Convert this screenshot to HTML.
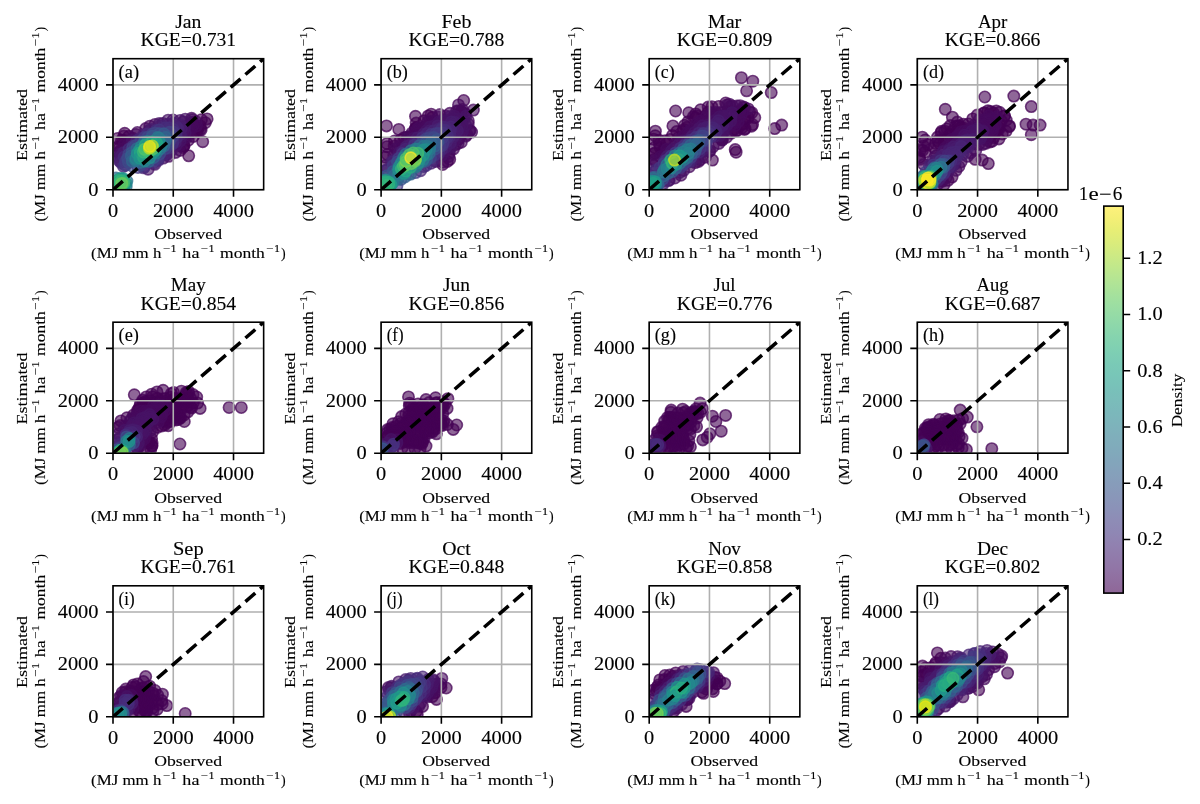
<!DOCTYPE html><html><head><meta charset="utf-8"><style>html,body{margin:0;padding:0;background:#fff}svg{display:block;will-change:transform}text{font-family:"Liberation Serif",serif;fill:#000;stroke:#000;stroke-width:.12px}.sc circle{r:5.7px;fill:currentColor;stroke:currentColor;stroke-width:1.6px;fill-opacity:.6;stroke-opacity:.72}</style></head><body>
<svg width="1200" height="804" viewBox="0 0 1200 804">
<rect width="1200" height="804" fill="#fff"/>
<clipPath id="c0"><rect x="113.0" y="58.7" width="150.65" height="131.0"/></clipPath>
<g class="sc" clip-path="url(#c0)"><g color="#440154"><circle cx="188.7" cy="155.8"/><circle cx="202.7" cy="141.7"/><circle cx="117.5" cy="138.5"/><circle cx="124.7" cy="133.3"/><circle cx="123.9" cy="136.1"/><circle cx="121.5" cy="140.3"/><circle cx="201.1" cy="130.0"/><circle cx="123.3" cy="140.2"/><circle cx="200.3" cy="129.1"/><circle cx="205.3" cy="122.7"/><circle cx="207.1" cy="118.9"/><circle cx="193.3" cy="136.5"/><circle cx="118.0" cy="146.7"/><circle cx="128.9" cy="136.3"/><circle cx="197.5" cy="130.6"/><circle cx="182.8" cy="147.5"/><circle cx="184.0" cy="145.9"/><circle cx="180.2" cy="150.3"/><circle cx="200.2" cy="125.9"/><circle cx="183.8" cy="145.8"/><circle cx="188.3" cy="140.2"/><circle cx="197.4" cy="128.6"/><circle cx="119.5" cy="147.4"/><circle cx="193.1" cy="132.1"/><circle cx="201.4" cy="119.7"/></g><g color="#460a5d"><circle cx="196.5" cy="126.0"/><circle cx="175.6" cy="152.4"/><circle cx="137.4" cy="132.5"/><circle cx="187.5" cy="137.0"/><circle cx="124.5" cy="144.3"/><circle cx="136.0" cy="134.5"/><circle cx="180.2" cy="145.5"/><circle cx="196.0" cy="121.7"/><circle cx="191.8" cy="128.6"/><circle cx="187.8" cy="134.2"/><circle cx="118.5" cy="152.6"/><circle cx="118.6" cy="152.5"/><circle cx="145.7" cy="128.6"/><circle cx="149.8" cy="126.2"/><circle cx="193.1" cy="125.3"/><circle cx="121.7" cy="148.9"/><circle cx="132.8" cy="138.2"/><circle cx="184.4" cy="137.9"/><circle cx="189.6" cy="129.5"/><circle cx="168.7" cy="156.3"/><circle cx="129.3" cy="141.6"/><circle cx="192.3" cy="122.3"/><circle cx="155.0" cy="124.4"/><circle cx="192.2" cy="119.8"/><circle cx="191.6" cy="118.3"/><circle cx="189.6" cy="125.2"/><circle cx="123.5" cy="149.0"/><circle cx="128.1" cy="144.0"/></g><g color="#471365"><circle cx="185.1" cy="132.8"/><circle cx="159.2" cy="123.6"/><circle cx="180.1" cy="140.8"/><circle cx="132.4" cy="140.4"/><circle cx="118.4" cy="157.3"/><circle cx="168.1" cy="120.2"/><circle cx="120.6" cy="153.8"/><circle cx="148.1" cy="169.2"/><circle cx="176.3" cy="145.1"/><circle cx="185.3" cy="119.2"/><circle cx="181.6" cy="136.2"/><circle cx="162.8" cy="123.4"/><circle cx="173.1" cy="120.0"/><circle cx="171.5" cy="150.3"/><circle cx="184.7" cy="126.6"/><circle cx="184.0" cy="129.1"/><circle cx="183.4" cy="121.9"/><circle cx="163.3" cy="158.1"/><circle cx="180.1" cy="120.4"/><circle cx="149.2" cy="130.4"/><circle cx="154.7" cy="164.3"/></g><g color="#481c6e"><circle cx="121.0" cy="156.2"/><circle cx="166.8" cy="154.6"/><circle cx="119.3" cy="160.7"/><circle cx="123.4" cy="152.8"/><circle cx="180.4" cy="134.5"/><circle cx="159.9" cy="125.7"/><circle cx="151.8" cy="129.4"/><circle cx="181.3" cy="128.2"/><circle cx="180.4" cy="125.1"/><circle cx="173.6" cy="123.0"/><circle cx="167.3" cy="152.9"/><circle cx="144.1" cy="134.4"/><circle cx="168.0" cy="124.3"/><circle cx="175.3" cy="142.2"/><circle cx="120.9" cy="160.5"/></g><g color="#482475"><circle cx="158.3" cy="160.3"/><circle cx="120.7" cy="162.5"/><circle cx="176.6" cy="137.6"/><circle cx="163.6" cy="126.4"/><circle cx="176.2" cy="126.5"/><circle cx="177.5" cy="128.2"/><circle cx="154.0" cy="162.8"/><circle cx="136.8" cy="140.8"/><circle cx="140.1" cy="138.4"/><circle cx="164.8" cy="153.9"/><circle cx="172.7" cy="126.4"/><circle cx="143.6" cy="167.8"/></g><g color="#472d7b"><circle cx="158.1" cy="159.4"/><circle cx="147.2" cy="134.1"/><circle cx="129.0" cy="149.1"/><circle cx="172.1" cy="144.2"/><circle cx="176.1" cy="133.1"/><circle cx="124.2" cy="157.0"/><circle cx="123.5" cy="166.5"/><circle cx="172.8" cy="142.4"/><circle cx="156.2" cy="130.4"/><circle cx="164.7" cy="128.1"/><circle cx="173.1" cy="129.3"/><circle cx="169.0" cy="128.0"/><circle cx="144.6" cy="166.6"/></g><g color="#463480"><circle cx="168.4" cy="148.1"/><circle cx="159.2" cy="129.9"/><circle cx="124.7" cy="165.2"/><circle cx="133.0" cy="146.2"/><circle cx="173.3" cy="132.2"/><circle cx="157.6" cy="158.2"/></g><g color="#443b84"><circle cx="153.5" cy="161.0"/><circle cx="172.8" cy="136.5"/><circle cx="144.5" cy="137.5"/><circle cx="126.1" cy="164.9"/><circle cx="138.0" cy="167.5"/><circle cx="125.6" cy="161.7"/></g><g color="#414487"><circle cx="132.6" cy="148.3"/><circle cx="155.1" cy="132.9"/><circle cx="152.2" cy="134.2"/><circle cx="169.5" cy="132.3"/><circle cx="168.6" cy="144.2"/><circle cx="135.4" cy="145.8"/><circle cx="128.9" cy="154.3"/><circle cx="140.9" cy="141.2"/><circle cx="165.5" cy="148.5"/></g><g color="#3e4a89"><circle cx="127.6" cy="158.4"/><circle cx="132.1" cy="166.0"/><circle cx="169.2" cy="141.6"/><circle cx="147.6" cy="137.4"/><circle cx="128.5" cy="162.2"/><circle cx="140.7" cy="165.0"/><circle cx="159.7" cy="153.9"/></g><g color="#3b528b"><circle cx="159.3" cy="133.7"/><circle cx="167.9" cy="136.5"/></g><g color="#38598c"><circle cx="163.8" cy="133.8"/><circle cx="132.0" cy="152.6"/><circle cx="152.4" cy="136.2"/></g><g color="#355f8d"><circle cx="153.6" cy="157.5"/><circle cx="131.3" cy="156.0"/></g><g color="#31668e"><circle cx="165.6" cy="137.5"/><circle cx="148.6" cy="161.5"/><circle cx="132.4" cy="161.2"/><circle cx="116.1" cy="178.1"/><circle cx="163.9" cy="146.0"/></g><g color="#2f6c8e"><circle cx="165.2" cy="141.2"/><circle cx="123.6" cy="188.8"/><circle cx="144.4" cy="142.1"/><circle cx="137.0" cy="148.7"/></g><g color="#2c728e"><circle cx="126.2" cy="186.3"/><circle cx="118.9" cy="188.8"/><circle cx="140.9" cy="162.2"/><circle cx="126.9" cy="181.0"/><circle cx="121.3" cy="188.9"/></g><g color="#2a788e"><circle cx="157.6" cy="137.5"/><circle cx="156.3" cy="153.0"/><circle cx="135.8" cy="160.4"/><circle cx="160.0" cy="148.9"/><circle cx="159.1" cy="138.0"/></g><g color="#277e8e"><circle cx="161.3" cy="145.8"/><circle cx="147.3" cy="141.5"/></g><g color="#25848e"><circle cx="135.9" cy="158.6"/><circle cx="141.2" cy="146.6"/><circle cx="116.7" cy="186.1"/></g><g color="#21918c"><circle cx="149.6" cy="157.9"/></g><g color="#1f968b"><circle cx="116.4" cy="183.3"/></g><g color="#238a8d"><circle cx="126.1" cy="183.3"/></g><g color="#1e9c89"><circle cx="124.0" cy="186.0"/></g><g color="#238a8d"><circle cx="144.8" cy="161.0"/></g><g color="#1f968b"><circle cx="119.5" cy="178.7"/></g><g color="#1e9c89"><circle cx="121.7" cy="178.6"/></g><g color="#238a8d"><circle cx="116.4" cy="180.9"/></g><g color="#21918c"><circle cx="137.2" cy="153.5"/></g><g color="#28ae80"><circle cx="119.2" cy="186.0"/></g><g color="#1f968b"><circle cx="153.6" cy="152.3"/></g><g color="#21918c"><circle cx="159.6" cy="142.5"/></g><g color="#1f968b"><circle cx="139.6" cy="150.2"/></g><g color="#22a884"><circle cx="140.3" cy="152.7"/></g><g color="#28ae80"><circle cx="151.6" cy="142.1"/></g><g color="#38b977"><circle cx="143.5" cy="157.5"/></g><g color="#21918c"><circle cx="123.6" cy="178.8"/></g><g color="#1fa287"><circle cx="157.5" cy="145.2"/></g><g color="#1f968b"><circle cx="139.8" cy="158.2"/></g><g color="#1e9c89"><circle cx="155.5" cy="149.8"/></g><g color="#44bf70"><circle cx="148.6" cy="152.5"/></g><g color="#50c46a"><circle cx="121.5" cy="181.1"/></g><g color="#38b977"><circle cx="143.3" cy="152.0"/></g><g color="#22a884"><circle cx="156.4" cy="142.6"/></g><g color="#38b977"><circle cx="121.1" cy="185.8"/></g><g color="#50c46a"><circle cx="118.8" cy="183.6"/></g><g color="#28ae80"><circle cx="124.0" cy="181.1"/></g><g color="#50c46a"><circle cx="152.9" cy="148.9"/></g><g color="#22a884"><circle cx="145.3" cy="145.1"/></g><g color="#50c46a"><circle cx="144.6" cy="149.3"/></g><g color="#2fb47c"><circle cx="118.6" cy="180.6"/></g><g color="#44bf70"><circle cx="123.5" cy="183.2"/></g><g color="#bddf26"><circle cx="149.4" cy="148.2"/></g><g color="#6ccd5a"><circle cx="121.8" cy="183.4"/></g><g color="#addc30"><circle cx="152.4" cy="146.0"/></g><g color="#efe51c"><circle cx="149.6" cy="146.5"/></g></g>
<path d="M113.00 58.70V189.70M113.00 189.70H263.65M173.26 58.70V189.70M113.00 137.30H263.65M233.52 58.70V189.70M113.00 84.90H263.65" stroke="#b0b0b0" stroke-width="1.6" fill="none"/>
<path d="M113.00 189.70L263.65 58.70" stroke="#000" stroke-width="3.5" stroke-dasharray="13 6.5" fill="none" clip-path="url(#c0)"/>
<rect x="113.0" y="58.7" width="150.65" height="131.0" fill="none" stroke="#000" stroke-width="1.6"/>
<path d="M113.00 189.70v7M113.00 189.70h-7M173.26 189.70v7M113.00 137.30h-7M233.52 189.70v7M113.00 84.90h-7" stroke="#000" stroke-width="1.6" fill="none"/>
<text x="113.00" y="216.70" font-size="17.80" textLength="10.18" lengthAdjust="spacingAndGlyphs" text-anchor="middle">0</text>
<text x="98.50" y="195.55" font-size="17.80" textLength="10.18" lengthAdjust="spacingAndGlyphs" text-anchor="end">0</text>
<text x="173.26" y="216.70" font-size="17.80" textLength="40.72" lengthAdjust="spacingAndGlyphs" text-anchor="middle">2000</text>
<text x="98.50" y="143.15" font-size="17.80" textLength="40.72" lengthAdjust="spacingAndGlyphs" text-anchor="end">2000</text>
<text x="233.52" y="216.70" font-size="17.80" textLength="40.72" lengthAdjust="spacingAndGlyphs" text-anchor="middle">4000</text>
<text x="98.50" y="90.75" font-size="17.80" textLength="40.72" lengthAdjust="spacingAndGlyphs" text-anchor="end">4000</text>
<text x="118.60" y="77.70" font-size="17.80" textLength="20.42" lengthAdjust="spacingAndGlyphs">(a)</text>
<text x="188.32" y="27.70" font-size="17.80" textLength="26.26" lengthAdjust="spacingAndGlyphs" text-anchor="middle">Jan</text>
<text x="188.32" y="46.00" font-size="17.80" textLength="95.62" lengthAdjust="spacingAndGlyphs" text-anchor="middle">KGE=0.731</text>
<text x="188.12" y="239.10" font-size="15.58" textLength="67.76" lengthAdjust="spacingAndGlyphs" text-anchor="middle">Observed</text>
<text x="91.06" y="257.80" font-size="15.58" textLength="70.32" lengthAdjust="spacingAndGlyphs">(MJ mm h</text><text x="182.39" y="257.80" font-size="15.58" textLength="17.03" lengthAdjust="spacingAndGlyphs">ha</text><text x="220.02" y="257.80" font-size="15.58" textLength="44.88" lengthAdjust="spacingAndGlyphs">month</text><text x="280.92" y="257.80" font-size="15.58" textLength="4.66" lengthAdjust="spacingAndGlyphs">)</text><text x="162.73" y="251.80" font-size="10.68" textLength="7.28" lengthAdjust="spacingAndGlyphs">−</text><text x="170.61" y="251.90" font-size="10.68" textLength="6.10" lengthAdjust="spacingAndGlyphs">1</text><text x="200.53" y="251.80" font-size="10.68" textLength="7.28" lengthAdjust="spacingAndGlyphs">−</text><text x="208.41" y="251.90" font-size="10.68" textLength="6.10" lengthAdjust="spacingAndGlyphs">1</text><text x="266.13" y="251.80" font-size="10.68" textLength="7.28" lengthAdjust="spacingAndGlyphs">−</text><text x="274.01" y="251.90" font-size="10.68" textLength="6.10" lengthAdjust="spacingAndGlyphs">1</text>
<g transform="translate(44.50,124.20) rotate(-90)">
<text x="-0.75" y="-17.90" font-size="15.58" textLength="72.00" lengthAdjust="spacingAndGlyphs" text-anchor="middle">Estimated</text>
<text x="-97.27" y="0.00" font-size="15.58" textLength="70.32" lengthAdjust="spacingAndGlyphs">(MJ mm h</text><text x="-5.93" y="0.00" font-size="15.58" textLength="17.03" lengthAdjust="spacingAndGlyphs">ha</text><text x="31.70" y="0.00" font-size="15.58" textLength="44.88" lengthAdjust="spacingAndGlyphs">month</text><text x="92.60" y="0.00" font-size="15.58" textLength="4.66" lengthAdjust="spacingAndGlyphs">)</text><text x="-25.60" y="-6.00" font-size="10.68" textLength="7.28" lengthAdjust="spacingAndGlyphs">−</text><text x="-17.72" y="-5.90" font-size="10.68" textLength="6.10" lengthAdjust="spacingAndGlyphs">1</text><text x="12.20" y="-6.00" font-size="10.68" textLength="7.28" lengthAdjust="spacingAndGlyphs">−</text><text x="20.08" y="-5.90" font-size="10.68" textLength="6.10" lengthAdjust="spacingAndGlyphs">1</text><text x="77.80" y="-6.00" font-size="10.68" textLength="7.28" lengthAdjust="spacingAndGlyphs">−</text><text x="85.68" y="-5.90" font-size="10.68" textLength="6.10" lengthAdjust="spacingAndGlyphs">1</text>
</g>
<clipPath id="c1"><rect x="381.1" y="58.7" width="150.65" height="131.0"/></clipPath>
<g class="sc" clip-path="url(#c1)"><g color="#440154"><circle cx="386.5" cy="125.9"/><circle cx="398.8" cy="129.4"/><circle cx="415.5" cy="116.3"/><circle cx="387.0" cy="143.6"/><circle cx="387.0" cy="146.7"/><circle cx="394.5" cy="141.0"/><circle cx="416.2" cy="123.1"/><circle cx="428.2" cy="115.9"/><circle cx="431.2" cy="114.2"/><circle cx="400.5" cy="140.0"/><circle cx="424.0" cy="120.8"/><circle cx="394.2" cy="146.1"/><circle cx="449.7" cy="159.3"/><circle cx="447.3" cy="161.4"/><circle cx="415.6" cy="128.1"/><circle cx="404.0" cy="137.8"/><circle cx="416.3" cy="127.8"/><circle cx="387.3" cy="154.5"/><circle cx="442.7" cy="164.5"/><circle cx="385.4" cy="157.2"/><circle cx="415.3" cy="129.4"/><circle cx="463.7" cy="100.5"/><circle cx="432.5" cy="117.3"/></g><g color="#460a5d"><circle cx="411.9" cy="133.1"/><circle cx="471.6" cy="132.1"/><circle cx="417.2" cy="129.0"/><circle cx="419.3" cy="127.4"/><circle cx="428.1" cy="121.0"/><circle cx="407.5" cy="137.3"/><circle cx="407.9" cy="136.9"/><circle cx="442.9" cy="162.2"/><circle cx="448.7" cy="156.5"/><circle cx="458.5" cy="104.9"/><circle cx="395.5" cy="149.0"/><circle cx="427.7" cy="122.5"/><circle cx="439.9" cy="114.6"/><circle cx="399.5" cy="145.7"/><circle cx="461.3" cy="142.2"/><circle cx="465.9" cy="136.1"/><circle cx="470.1" cy="130.4"/><circle cx="466.9" cy="134.6"/><circle cx="469.5" cy="131.1"/><circle cx="411.5" cy="135.7"/><circle cx="407.9" cy="139.1"/><circle cx="419.2" cy="129.9"/><circle cx="438.3" cy="117.1"/><circle cx="453.6" cy="148.8"/><circle cx="449.2" cy="153.2"/><circle cx="458.1" cy="143.5"/><circle cx="423.5" cy="127.5"/><circle cx="421.3" cy="129.3"/><circle cx="473.4" cy="110.1"/><circle cx="430.6" cy="123.0"/><circle cx="406.5" cy="141.9"/><circle cx="434.1" cy="121.3"/><circle cx="426.3" cy="126.5"/><circle cx="462.4" cy="109.5"/><circle cx="449.9" cy="113.3"/><circle cx="455.3" cy="144.7"/><circle cx="456.7" cy="111.1"/><circle cx="458.5" cy="110.9"/><circle cx="417.2" cy="133.9"/><circle cx="397.9" cy="150.7"/><circle cx="445.6" cy="116.1"/><circle cx="468.2" cy="124.0"/><circle cx="461.3" cy="111.3"/><circle cx="393.8" cy="155.4"/><circle cx="458.8" cy="138.8"/><circle cx="385.1" cy="165.5"/><circle cx="458.7" cy="138.8"/><circle cx="468.3" cy="120.8"/><circle cx="403.6" cy="146.2"/><circle cx="462.7" cy="112.7"/><circle cx="465.5" cy="113.8"/></g><g color="#471365"><circle cx="450.9" cy="147.1"/><circle cx="462.5" cy="131.5"/><circle cx="465.9" cy="116.2"/><circle cx="465.6" cy="125.2"/><circle cx="410.1" cy="141.1"/><circle cx="461.3" cy="133.0"/><circle cx="450.3" cy="116.5"/><circle cx="414.1" cy="138.2"/><circle cx="429.8" cy="127.1"/><circle cx="438.7" cy="122.0"/><circle cx="454.4" cy="116.2"/><circle cx="454.5" cy="141.0"/><circle cx="463.3" cy="119.5"/><circle cx="441.7" cy="155.2"/><circle cx="435.5" cy="161.4"/><circle cx="442.1" cy="121.2"/><circle cx="457.5" cy="135.3"/><circle cx="462.0" cy="125.2"/><circle cx="449.5" cy="146.1"/><circle cx="445.2" cy="151.1"/><circle cx="461.2" cy="122.6"/><circle cx="434.6" cy="125.7"/><circle cx="458.0" cy="119.3"/><circle cx="454.3" cy="118.9"/><circle cx="450.3" cy="119.4"/><circle cx="426.1" cy="131.1"/><circle cx="446.2" cy="121.1"/><circle cx="458.2" cy="121.8"/><circle cx="459.0" cy="127.4"/><circle cx="399.2" cy="153.0"/></g><g color="#481c6e"><circle cx="417.2" cy="138.0"/><circle cx="450.4" cy="142.9"/><circle cx="406.3" cy="146.8"/><circle cx="457.4" cy="130.7"/><circle cx="391.5" cy="161.8"/><circle cx="454.9" cy="122.5"/><circle cx="451.4" cy="121.9"/><circle cx="437.9" cy="125.9"/><circle cx="453.2" cy="136.9"/><circle cx="454.0" cy="135.2"/><circle cx="423.6" cy="134.3"/><circle cx="446.0" cy="147.0"/><circle cx="431.1" cy="163.2"/><circle cx="429.7" cy="131.0"/><circle cx="453.6" cy="125.3"/><circle cx="385.5" cy="170.6"/><circle cx="402.1" cy="151.5"/><circle cx="453.8" cy="131.5"/><circle cx="410.3" cy="145.1"/><circle cx="394.8" cy="159.5"/></g><g color="#482475"><circle cx="387.1" cy="169.8"/><circle cx="427.2" cy="133.4"/><circle cx="393.3" cy="161.7"/><circle cx="451.0" cy="127.0"/><circle cx="432.9" cy="160.1"/><circle cx="438.6" cy="153.8"/><circle cx="405.5" cy="149.3"/><circle cx="442.8" cy="126.9"/><circle cx="449.4" cy="137.0"/><circle cx="441.6" cy="149.5"/><circle cx="450.3" cy="130.4"/><circle cx="445.4" cy="127.4"/><circle cx="433.3" cy="131.1"/><circle cx="420.6" cy="170.7"/><circle cx="449.7" cy="133.9"/><circle cx="438.9" cy="129.2"/><circle cx="446.4" cy="141.6"/><circle cx="415.0" cy="142.9"/></g><g color="#472d7b"><circle cx="422.5" cy="137.7"/><circle cx="426.2" cy="165.5"/><circle cx="441.2" cy="129.6"/><circle cx="447.4" cy="137.0"/><circle cx="445.6" cy="130.6"/><circle cx="447.0" cy="135.1"/><circle cx="439.0" cy="150.2"/><circle cx="417.9" cy="141.9"/><circle cx="423.8" cy="166.6"/></g><g color="#463480"><circle cx="442.1" cy="145.5"/><circle cx="402.5" cy="153.5"/><circle cx="431.0" cy="134.5"/><circle cx="443.1" cy="143.0"/><circle cx="434.4" cy="155.0"/><circle cx="443.0" cy="133.1"/><circle cx="414.5" cy="145.2"/></g><g color="#443b84"><circle cx="435.7" cy="133.7"/><circle cx="396.8" cy="186.2"/><circle cx="393.2" cy="165.7"/><circle cx="398.6" cy="158.6"/><circle cx="438.3" cy="133.6"/><circle cx="415.6" cy="172.6"/><circle cx="439.5" cy="146.4"/><circle cx="442.4" cy="137.8"/></g><g color="#414487"><circle cx="430.5" cy="157.8"/><circle cx="426.1" cy="139.0"/><circle cx="429.6" cy="137.7"/><circle cx="422.9" cy="141.3"/></g><g color="#3e4a89"><circle cx="433.8" cy="137.6"/><circle cx="397.5" cy="162.0"/></g><g color="#3b528b"><circle cx="438.1" cy="141.7"/><circle cx="437.2" cy="139.4"/><circle cx="435.0" cy="149.0"/><circle cx="425.1" cy="161.2"/><circle cx="401.0" cy="179.4"/></g><g color="#38598c"><circle cx="386.7" cy="176.1"/><circle cx="426.6" cy="159.3"/><circle cx="410.7" cy="174.1"/><circle cx="393.2" cy="171.5"/><circle cx="426.7" cy="141.8"/></g><g color="#355f8d"><circle cx="434.7" cy="146.1"/><circle cx="433.9" cy="141.7"/><circle cx="419.5" cy="145.7"/><circle cx="405.0" cy="176.9"/></g><g color="#31668e"><circle cx="398.1" cy="178.9"/><circle cx="430.9" cy="142.6"/></g><g color="#2f6c8e"><circle cx="429.1" cy="153.6"/><circle cx="408.4" cy="174.3"/><circle cx="395.1" cy="178.1"/><circle cx="394.5" cy="175.3"/><circle cx="422.3" cy="161.4"/></g><g color="#2c728e"><circle cx="405.7" cy="154.3"/><circle cx="411.0" cy="150.7"/></g><g color="#2a788e"><circle cx="415.5" cy="149.1"/><circle cx="423.5" cy="146.3"/><circle cx="429.6" cy="149.2"/><circle cx="429.6" cy="147.5"/><circle cx="417.3" cy="165.4"/><circle cx="423.2" cy="159.3"/><circle cx="415.6" cy="166.9"/><circle cx="426.5" cy="154.8"/><circle cx="427.1" cy="146.3"/></g><g color="#277e8e"><circle cx="392.7" cy="182.9"/><circle cx="398.4" cy="175.2"/><circle cx="403.6" cy="157.8"/><circle cx="417.1" cy="149.3"/></g><g color="#25848e"><circle cx="385.8" cy="190.0"/></g><g color="#238a8d"><circle cx="426.2" cy="149.6"/></g><g color="#22a884"><circle cx="419.7" cy="158.8"/></g><g color="#1f968b"><circle cx="404.0" cy="173.4"/></g><g color="#21918c"><circle cx="385.6" cy="179.9"/></g><g color="#25848e"><circle cx="381.0" cy="185.0"/></g><g color="#238a8d"><circle cx="418.5" cy="162.8"/><circle cx="399.2" cy="166.5"/></g><g color="#1f968b"><circle cx="423.3" cy="154.9"/></g><g color="#21918c"><circle cx="423.5" cy="150.1"/></g><g color="#1e9c89"><circle cx="383.0" cy="182.4"/></g><g color="#21918c"><circle cx="398.5" cy="169.6"/></g><g color="#28ae80"><circle cx="388.2" cy="187.1"/></g><g color="#44bf70"><circle cx="386.0" cy="183.0"/></g><g color="#238a8d"><circle cx="401.4" cy="162.6"/></g><g color="#2fb47c"><circle cx="383.7" cy="185.2"/></g><g color="#22a884"><circle cx="405.8" cy="171.1"/></g><g color="#1f968b"><circle cx="391.0" cy="184.7"/></g><g color="#1e9c89"><circle cx="390.5" cy="184.4"/></g><g color="#28ae80"><circle cx="410.5" cy="167.3"/></g><g color="#38b977"><circle cx="388.5" cy="184.5"/></g><g color="#1fa287"><circle cx="383.6" cy="187.7"/></g><g color="#28ae80"><circle cx="385.3" cy="181.6"/></g><g color="#5ec962"><circle cx="414.9" cy="161.2"/></g><g color="#2fb47c"><circle cx="386.1" cy="187.3"/></g><g color="#44bf70"><circle cx="417.8" cy="153.2"/></g><g color="#8bd646"><circle cx="415.5" cy="159.5"/></g><g color="#50c46a"><circle cx="385.8" cy="185.3"/><circle cx="413.2" cy="153.0"/></g><g color="#6ccd5a"><circle cx="411.4" cy="163.5"/></g><g color="#50c46a"><circle cx="409.6" cy="154.7"/></g><g color="#2fb47c"><circle cx="401.4" cy="169.0"/></g><g color="#28ae80"><circle cx="388.6" cy="182.2"/></g><g color="#44bf70"><circle cx="403.4" cy="166.2"/></g><g color="#5ec962"><circle cx="405.4" cy="165.1"/></g><g color="#7ad151"><circle cx="406.1" cy="161.5"/></g><g color="#50c46a"><circle cx="406.0" cy="158.8"/></g><g color="#fde725"><circle cx="410.8" cy="157.8"/></g></g>
<path d="M381.10 58.70V189.70M381.10 189.70H531.75M441.36 58.70V189.70M381.10 137.30H531.75M501.62 58.70V189.70M381.10 84.90H531.75" stroke="#b0b0b0" stroke-width="1.6" fill="none"/>
<path d="M381.10 189.70L531.75 58.70" stroke="#000" stroke-width="3.5" stroke-dasharray="13 6.5" fill="none" clip-path="url(#c1)"/>
<rect x="381.1" y="58.7" width="150.65" height="131.0" fill="none" stroke="#000" stroke-width="1.6"/>
<path d="M381.10 189.70v7M381.10 189.70h-7M441.36 189.70v7M381.10 137.30h-7M501.62 189.70v7M381.10 84.90h-7" stroke="#000" stroke-width="1.6" fill="none"/>
<text x="381.10" y="216.70" font-size="17.80" textLength="10.18" lengthAdjust="spacingAndGlyphs" text-anchor="middle">0</text>
<text x="366.60" y="195.55" font-size="17.80" textLength="10.18" lengthAdjust="spacingAndGlyphs" text-anchor="end">0</text>
<text x="441.36" y="216.70" font-size="17.80" textLength="40.72" lengthAdjust="spacingAndGlyphs" text-anchor="middle">2000</text>
<text x="366.60" y="143.15" font-size="17.80" textLength="40.72" lengthAdjust="spacingAndGlyphs" text-anchor="end">2000</text>
<text x="501.62" y="216.70" font-size="17.80" textLength="40.72" lengthAdjust="spacingAndGlyphs" text-anchor="middle">4000</text>
<text x="366.60" y="90.75" font-size="17.80" textLength="40.72" lengthAdjust="spacingAndGlyphs" text-anchor="end">4000</text>
<text x="386.70" y="77.70" font-size="17.80" textLength="21.13" lengthAdjust="spacingAndGlyphs">(b)</text>
<text x="456.43" y="27.70" font-size="17.80" textLength="29.94" lengthAdjust="spacingAndGlyphs" text-anchor="middle">Feb</text>
<text x="456.43" y="46.00" font-size="17.80" textLength="95.62" lengthAdjust="spacingAndGlyphs" text-anchor="middle">KGE=0.788</text>
<text x="456.23" y="239.10" font-size="15.58" textLength="67.76" lengthAdjust="spacingAndGlyphs" text-anchor="middle">Observed</text>
<text x="359.16" y="257.80" font-size="15.58" textLength="70.32" lengthAdjust="spacingAndGlyphs">(MJ mm h</text><text x="450.49" y="257.80" font-size="15.58" textLength="17.03" lengthAdjust="spacingAndGlyphs">ha</text><text x="488.12" y="257.80" font-size="15.58" textLength="44.88" lengthAdjust="spacingAndGlyphs">month</text><text x="549.02" y="257.80" font-size="15.58" textLength="4.66" lengthAdjust="spacingAndGlyphs">)</text><text x="430.83" y="251.80" font-size="10.68" textLength="7.28" lengthAdjust="spacingAndGlyphs">−</text><text x="438.71" y="251.90" font-size="10.68" textLength="6.10" lengthAdjust="spacingAndGlyphs">1</text><text x="468.63" y="251.80" font-size="10.68" textLength="7.28" lengthAdjust="spacingAndGlyphs">−</text><text x="476.51" y="251.90" font-size="10.68" textLength="6.10" lengthAdjust="spacingAndGlyphs">1</text><text x="534.23" y="251.80" font-size="10.68" textLength="7.28" lengthAdjust="spacingAndGlyphs">−</text><text x="542.11" y="251.90" font-size="10.68" textLength="6.10" lengthAdjust="spacingAndGlyphs">1</text>
<g transform="translate(312.60,124.20) rotate(-90)">
<text x="-0.75" y="-17.90" font-size="15.58" textLength="72.00" lengthAdjust="spacingAndGlyphs" text-anchor="middle">Estimated</text>
<text x="-97.27" y="0.00" font-size="15.58" textLength="70.32" lengthAdjust="spacingAndGlyphs">(MJ mm h</text><text x="-5.93" y="0.00" font-size="15.58" textLength="17.03" lengthAdjust="spacingAndGlyphs">ha</text><text x="31.70" y="0.00" font-size="15.58" textLength="44.88" lengthAdjust="spacingAndGlyphs">month</text><text x="92.60" y="0.00" font-size="15.58" textLength="4.66" lengthAdjust="spacingAndGlyphs">)</text><text x="-25.60" y="-6.00" font-size="10.68" textLength="7.28" lengthAdjust="spacingAndGlyphs">−</text><text x="-17.72" y="-5.90" font-size="10.68" textLength="6.10" lengthAdjust="spacingAndGlyphs">1</text><text x="12.20" y="-6.00" font-size="10.68" textLength="7.28" lengthAdjust="spacingAndGlyphs">−</text><text x="20.08" y="-5.90" font-size="10.68" textLength="6.10" lengthAdjust="spacingAndGlyphs">1</text><text x="77.80" y="-6.00" font-size="10.68" textLength="7.28" lengthAdjust="spacingAndGlyphs">−</text><text x="85.68" y="-5.90" font-size="10.68" textLength="6.10" lengthAdjust="spacingAndGlyphs">1</text>
</g>
<clipPath id="c2"><rect x="649.2" y="58.7" width="150.65" height="131.0"/></clipPath>
<g class="sc" clip-path="url(#c2)"><g color="#440154"><circle cx="781.7" cy="125.1"/><circle cx="774.7" cy="128.6"/><circle cx="675.6" cy="111.0"/><circle cx="655.4" cy="131.2"/><circle cx="655.2" cy="135.8"/><circle cx="736.1" cy="152.2"/><circle cx="653.6" cy="139.2"/><circle cx="735.2" cy="149.6"/><circle cx="672.9" cy="125.9"/><circle cx="688.7" cy="112.8"/><circle cx="659.1" cy="140.2"/><circle cx="741.4" cy="77.7"/><circle cx="751.5" cy="126.2"/><circle cx="654.7" cy="147.5"/><circle cx="752.6" cy="124.6"/><circle cx="659.4" cy="144.0"/><circle cx="700.6" cy="109.8"/><circle cx="695.8" cy="113.9"/><circle cx="693.4" cy="116.7"/><circle cx="665.1" cy="140.8"/><circle cx="744.5" cy="129.4"/><circle cx="745.1" cy="128.6"/><circle cx="754.8" cy="117.6"/><circle cx="688.0" cy="121.8"/><circle cx="676.7" cy="131.6"/><circle cx="672.4" cy="135.5"/><circle cx="712.4" cy="160.1"/><circle cx="684.6" cy="125.3"/><circle cx="771.2" cy="92.6"/><circle cx="708.2" cy="107.1"/><circle cx="660.1" cy="147.4"/><circle cx="653.3" cy="154.0"/><circle cx="697.1" cy="116.0"/><circle cx="654.8" cy="153.0"/><circle cx="752.8" cy="81.2"/><circle cx="695.4" cy="117.7"/><circle cx="669.9" cy="139.5"/><circle cx="666.7" cy="143.2"/><circle cx="741.9" cy="127.9"/><circle cx="711.9" cy="106.7"/><circle cx="683.8" cy="129.6"/><circle cx="687.0" cy="127.3"/><circle cx="743.4" cy="123.7"/><circle cx="748.2" cy="117.8"/><circle cx="751.8" cy="112.7"/><circle cx="736.9" cy="130.6"/><circle cx="682.8" cy="131.5"/><circle cx="708.3" cy="112.1"/><circle cx="735.2" cy="131.3"/><circle cx="740.4" cy="125.3"/><circle cx="746.6" cy="90.8"/><circle cx="744.3" cy="119.8"/><circle cx="654.3" cy="159.4"/><circle cx="662.2" cy="151.6"/><circle cx="749.7" cy="112.1"/><circle cx="718.7" cy="106.4"/><circle cx="664.5" cy="149.8"/><circle cx="678.6" cy="137.3"/><circle cx="704.7" cy="116.5"/><circle cx="725.7" cy="103.0"/><circle cx="731.2" cy="133.2"/><circle cx="744.3" cy="117.4"/><circle cx="734.2" cy="129.4"/></g><g color="#460a5d"><circle cx="696.6" cy="123.6"/><circle cx="654.7" cy="160.9"/><circle cx="706.7" cy="116.1"/><circle cx="666.7" cy="149.2"/><circle cx="726.6" cy="137.2"/><circle cx="700.4" cy="121.1"/><circle cx="748.2" cy="108.9"/><circle cx="711.9" cy="113.0"/><circle cx="705.4" cy="157.2"/><circle cx="690.7" cy="129.6"/><circle cx="727.0" cy="104.9"/><circle cx="660.4" cy="156.8"/><circle cx="738.3" cy="121.6"/><circle cx="735.2" cy="125.5"/><circle cx="718.9" cy="143.4"/><circle cx="722.3" cy="139.8"/><circle cx="729.3" cy="104.2"/><circle cx="722.0" cy="139.9"/><circle cx="688.1" cy="132.2"/><circle cx="683.6" cy="136.2"/><circle cx="679.6" cy="139.7"/><circle cx="715.8" cy="112.5"/><circle cx="744.5" cy="107.7"/><circle cx="742.4" cy="112.6"/><circle cx="740.6" cy="115.8"/><circle cx="698.6" cy="161.4"/><circle cx="674.9" cy="144.3"/><circle cx="698.8" cy="124.7"/><circle cx="721.9" cy="138.9"/><circle cx="710.0" cy="150.7"/><circle cx="743.4" cy="106.9"/><circle cx="690.1" cy="131.6"/><circle cx="709.0" cy="151.4"/><circle cx="700.0" cy="159.6"/><circle cx="680.9" cy="175.2"/><circle cx="654.0" cy="165.3"/><circle cx="704.4" cy="121.4"/><circle cx="730.2" cy="106.5"/><circle cx="732.2" cy="105.9"/><circle cx="740.0" cy="105.7"/><circle cx="740.4" cy="111.8"/><circle cx="712.5" cy="116.1"/><circle cx="736.1" cy="119.9"/><circle cx="713.1" cy="146.7"/><circle cx="740.1" cy="110.4"/><circle cx="736.9" cy="106.0"/><circle cx="721.1" cy="138.0"/><circle cx="663.8" cy="156.1"/><circle cx="708.1" cy="119.8"/><circle cx="695.3" cy="162.6"/><circle cx="720.0" cy="112.6"/><circle cx="731.7" cy="124.6"/><circle cx="715.1" cy="115.7"/><circle cx="687.8" cy="135.5"/><circle cx="695.9" cy="129.2"/><circle cx="736.4" cy="112.7"/><circle cx="735.3" cy="116.5"/><circle cx="689.4" cy="166.7"/><circle cx="721.4" cy="135.8"/><circle cx="722.8" cy="112.6"/><circle cx="674.9" cy="178.0"/><circle cx="668.4" cy="152.9"/><circle cx="726.6" cy="129.1"/><circle cx="710.4" cy="119.9"/><circle cx="727.9" cy="111.7"/></g><g color="#471365"><circle cx="723.5" cy="132.4"/><circle cx="697.5" cy="159.1"/><circle cx="732.0" cy="112.7"/><circle cx="702.3" cy="125.8"/><circle cx="679.6" cy="143.4"/><circle cx="730.6" cy="121.1"/><circle cx="683.6" cy="170.4"/><circle cx="672.4" cy="149.9"/><circle cx="699.3" cy="128.4"/><circle cx="719.8" cy="135.6"/><circle cx="683.0" cy="141.1"/><circle cx="731.0" cy="116.2"/><circle cx="674.1" cy="148.7"/><circle cx="705.9" cy="150.3"/><circle cx="671.1" cy="151.5"/><circle cx="719.3" cy="117.0"/><circle cx="727.0" cy="124.9"/><circle cx="720.6" cy="133.7"/><circle cx="727.6" cy="116.3"/><circle cx="723.3" cy="116.2"/><circle cx="694.7" cy="132.6"/><circle cx="679.7" cy="172.4"/><circle cx="724.1" cy="127.5"/><circle cx="703.6" cy="151.4"/><circle cx="726.6" cy="121.4"/><circle cx="669.2" cy="180.2"/><circle cx="715.3" cy="120.4"/><circle cx="723.5" cy="119.6"/><circle cx="668.5" cy="180.3"/><circle cx="708.0" cy="125.1"/></g><g color="#481c6e"><circle cx="667.6" cy="156.2"/><circle cx="718.5" cy="120.8"/><circle cx="722.8" cy="125.1"/><circle cx="703.2" cy="128.7"/><circle cx="692.1" cy="136.4"/><circle cx="691.3" cy="161.3"/><circle cx="663.3" cy="183.9"/><circle cx="706.5" cy="127.5"/><circle cx="716.4" cy="123.5"/><circle cx="718.6" cy="123.7"/><circle cx="687.3" cy="140.5"/><circle cx="714.6" cy="136.2"/><circle cx="718.9" cy="128.9"/><circle cx="703.0" cy="149.4"/><circle cx="711.9" cy="125.8"/></g><g color="#482475"><circle cx="706.1" cy="145.7"/><circle cx="716.2" cy="131.8"/><circle cx="689.4" cy="161.8"/><circle cx="698.9" cy="133.2"/><circle cx="656.2" cy="169.7"/><circle cx="664.5" cy="161.0"/><circle cx="699.0" cy="152.2"/><circle cx="689.0" cy="161.7"/><circle cx="664.6" cy="181.1"/><circle cx="715.0" cy="129.3"/><circle cx="712.7" cy="127.8"/><circle cx="655.3" cy="171.1"/></g><g color="#472d7b"><circle cx="711.2" cy="136.5"/><circle cx="690.5" cy="140.3"/><circle cx="704.5" cy="144.8"/><circle cx="710.4" cy="131.6"/><circle cx="680.5" cy="148.2"/></g><g color="#463480"><circle cx="695.5" cy="137.5"/><circle cx="706.7" cy="140.9"/><circle cx="703.4" cy="133.4"/><circle cx="684.5" cy="145.4"/><circle cx="659.9" cy="167.8"/><circle cx="680.1" cy="167.7"/><circle cx="666.5" cy="160.3"/><circle cx="700.0" cy="148.7"/><circle cx="708.6" cy="133.7"/><circle cx="682.6" cy="165.5"/></g><g color="#443b84"><circle cx="675.5" cy="152.9"/><circle cx="707.2" cy="137.8"/><circle cx="663.9" cy="163.8"/><circle cx="686.5" cy="161.6"/><circle cx="700.7" cy="136.1"/><circle cx="690.8" cy="157.5"/><circle cx="683.4" cy="164.1"/><circle cx="671.0" cy="156.3"/></g><g color="#414487"><circle cx="702.7" cy="135.9"/></g><g color="#3e4a89"><circle cx="694.7" cy="152.6"/><circle cx="662.9" cy="178.9"/><circle cx="687.7" cy="145.0"/><circle cx="703.3" cy="140.3"/><circle cx="652.7" cy="189.4"/></g><g color="#3b528b"><circle cx="695.5" cy="141.2"/><circle cx="672.3" cy="171.6"/></g><g color="#38598c"><circle cx="698.8" cy="140.5"/><circle cx="683.3" cy="149.2"/><circle cx="695.7" cy="149.3"/></g><g color="#355f8d"><circle cx="675.7" cy="168.4"/><circle cx="657.9" cy="184.7"/><circle cx="698.1" cy="144.5"/><circle cx="654.0" cy="177.3"/><circle cx="658.0" cy="184.4"/><circle cx="691.6" cy="153.5"/></g><g color="#31668e"><circle cx="663.3" cy="176.0"/><circle cx="690.4" cy="145.4"/><circle cx="667.8" cy="173.5"/><circle cx="687.6" cy="157.3"/><circle cx="696.0" cy="144.5"/></g><g color="#2f6c8e"><circle cx="648.4" cy="184.1"/><circle cx="678.8" cy="153.5"/></g><g color="#2c728e"><circle cx="653.4" cy="178.5"/><circle cx="684.4" cy="159.5"/><circle cx="650.4" cy="186.9"/><circle cx="679.7" cy="163.4"/></g><g color="#2a788e"><circle cx="667.0" cy="164.6"/><circle cx="663.3" cy="172.1"/><circle cx="664.5" cy="169.7"/><circle cx="650.1" cy="181.3"/></g><g color="#277e8e"><circle cx="686.8" cy="149.8"/><circle cx="683.3" cy="151.9"/><circle cx="690.6" cy="148.9"/><circle cx="655.1" cy="186.1"/><circle cx="674.7" cy="155.9"/><circle cx="653.2" cy="186.8"/></g><g color="#25848e"><circle cx="688.3" cy="153.3"/></g><g color="#1e9c89"><circle cx="679.4" cy="155.7"/></g><g color="#1f968b"><circle cx="650.8" cy="183.6"/></g><g color="#25848e"><circle cx="667.1" cy="168.7"/></g><g color="#21918c"><circle cx="655.1" cy="181.7"/></g><g color="#38b977"><circle cx="678.4" cy="159.4"/></g><g color="#238a8d"><circle cx="655.9" cy="183.7"/></g><g color="#1f968b"><circle cx="682.5" cy="157.4"/><circle cx="652.8" cy="181.5"/></g><g color="#28ae80"><circle cx="670.8" cy="160.2"/></g><g color="#238a8d"><circle cx="671.5" cy="167.9"/></g><g color="#1fa287"><circle cx="653.1" cy="184.3"/></g><g color="#1f968b"><circle cx="655.0" cy="182.1"/></g><g color="#1fa287"><circle cx="653.3" cy="183.3"/></g><g color="#38b977"><circle cx="672.4" cy="163.4"/></g><g color="#21918c"><circle cx="675.8" cy="164.5"/></g><g color="#cde11d"><circle cx="674.5" cy="160.1"/></g></g>
<path d="M649.20 58.70V189.70M649.20 189.70H799.85M709.46 58.70V189.70M649.20 137.30H799.85M769.72 58.70V189.70M649.20 84.90H799.85" stroke="#b0b0b0" stroke-width="1.6" fill="none"/>
<path d="M649.20 189.70L799.85 58.70" stroke="#000" stroke-width="3.5" stroke-dasharray="13 6.5" fill="none" clip-path="url(#c2)"/>
<rect x="649.2" y="58.7" width="150.65" height="131.0" fill="none" stroke="#000" stroke-width="1.6"/>
<path d="M649.20 189.70v7M649.20 189.70h-7M709.46 189.70v7M649.20 137.30h-7M769.72 189.70v7M649.20 84.90h-7" stroke="#000" stroke-width="1.6" fill="none"/>
<text x="649.20" y="216.70" font-size="17.80" textLength="10.18" lengthAdjust="spacingAndGlyphs" text-anchor="middle">0</text>
<text x="634.70" y="195.55" font-size="17.80" textLength="10.18" lengthAdjust="spacingAndGlyphs" text-anchor="end">0</text>
<text x="709.46" y="216.70" font-size="17.80" textLength="40.72" lengthAdjust="spacingAndGlyphs" text-anchor="middle">2000</text>
<text x="634.70" y="143.15" font-size="17.80" textLength="40.72" lengthAdjust="spacingAndGlyphs" text-anchor="end">2000</text>
<text x="769.72" y="216.70" font-size="17.80" textLength="40.72" lengthAdjust="spacingAndGlyphs" text-anchor="middle">4000</text>
<text x="634.70" y="90.75" font-size="17.80" textLength="40.72" lengthAdjust="spacingAndGlyphs" text-anchor="end">4000</text>
<text x="654.80" y="77.70" font-size="17.80" textLength="19.85" lengthAdjust="spacingAndGlyphs">(c)</text>
<text x="724.53" y="27.70" font-size="17.80" textLength="33.57" lengthAdjust="spacingAndGlyphs" text-anchor="middle">Mar</text>
<text x="724.53" y="46.00" font-size="17.80" textLength="95.62" lengthAdjust="spacingAndGlyphs" text-anchor="middle">KGE=0.809</text>
<text x="724.33" y="239.10" font-size="15.58" textLength="67.76" lengthAdjust="spacingAndGlyphs" text-anchor="middle">Observed</text>
<text x="627.26" y="257.80" font-size="15.58" textLength="70.32" lengthAdjust="spacingAndGlyphs">(MJ mm h</text><text x="718.59" y="257.80" font-size="15.58" textLength="17.03" lengthAdjust="spacingAndGlyphs">ha</text><text x="756.22" y="257.80" font-size="15.58" textLength="44.88" lengthAdjust="spacingAndGlyphs">month</text><text x="817.12" y="257.80" font-size="15.58" textLength="4.66" lengthAdjust="spacingAndGlyphs">)</text><text x="698.93" y="251.80" font-size="10.68" textLength="7.28" lengthAdjust="spacingAndGlyphs">−</text><text x="706.81" y="251.90" font-size="10.68" textLength="6.10" lengthAdjust="spacingAndGlyphs">1</text><text x="736.73" y="251.80" font-size="10.68" textLength="7.28" lengthAdjust="spacingAndGlyphs">−</text><text x="744.61" y="251.90" font-size="10.68" textLength="6.10" lengthAdjust="spacingAndGlyphs">1</text><text x="802.33" y="251.80" font-size="10.68" textLength="7.28" lengthAdjust="spacingAndGlyphs">−</text><text x="810.21" y="251.90" font-size="10.68" textLength="6.10" lengthAdjust="spacingAndGlyphs">1</text>
<g transform="translate(580.70,124.20) rotate(-90)">
<text x="-0.75" y="-17.90" font-size="15.58" textLength="72.00" lengthAdjust="spacingAndGlyphs" text-anchor="middle">Estimated</text>
<text x="-97.27" y="0.00" font-size="15.58" textLength="70.32" lengthAdjust="spacingAndGlyphs">(MJ mm h</text><text x="-5.93" y="0.00" font-size="15.58" textLength="17.03" lengthAdjust="spacingAndGlyphs">ha</text><text x="31.70" y="0.00" font-size="15.58" textLength="44.88" lengthAdjust="spacingAndGlyphs">month</text><text x="92.60" y="0.00" font-size="15.58" textLength="4.66" lengthAdjust="spacingAndGlyphs">)</text><text x="-25.60" y="-6.00" font-size="10.68" textLength="7.28" lengthAdjust="spacingAndGlyphs">−</text><text x="-17.72" y="-5.90" font-size="10.68" textLength="6.10" lengthAdjust="spacingAndGlyphs">1</text><text x="12.20" y="-6.00" font-size="10.68" textLength="7.28" lengthAdjust="spacingAndGlyphs">−</text><text x="20.08" y="-5.90" font-size="10.68" textLength="6.10" lengthAdjust="spacingAndGlyphs">1</text><text x="77.80" y="-6.00" font-size="10.68" textLength="7.28" lengthAdjust="spacingAndGlyphs">−</text><text x="85.68" y="-5.90" font-size="10.68" textLength="6.10" lengthAdjust="spacingAndGlyphs">1</text>
</g>
<clipPath id="c3"><rect x="917.3" y="58.7" width="150.65" height="131.0"/></clipPath>
<g class="sc" clip-path="url(#c3)"><g color="#440154"><circle cx="1040.1" cy="125.1"/><circle cx="1031.3" cy="134.7"/><circle cx="945.3" cy="109.3"/><circle cx="1033.1" cy="125.1"/><circle cx="922.3" cy="137.2"/><circle cx="1026.0" cy="124.2"/><circle cx="988.3" cy="163.6"/><circle cx="925.2" cy="140.0"/><circle cx="952.4" cy="117.2"/><circle cx="923.6" cy="146.1"/><circle cx="984.8" cy="97.0"/><circle cx="1031.3" cy="106.6"/><circle cx="920.4" cy="150.2"/><circle cx="941.8" cy="131.2"/><circle cx="941.0" cy="132.8"/><circle cx="928.0" cy="144.8"/><circle cx="950.3" cy="125.6"/><circle cx="922.5" cy="150.5"/><circle cx="947.0" cy="128.8"/><circle cx="937.6" cy="137.1"/><circle cx="944.6" cy="131.2"/><circle cx="982.2" cy="160.1"/><circle cx="957.4" cy="122.1"/><circle cx="1006.0" cy="131.2"/><circle cx="1009.3" cy="126.6"/><circle cx="1009.5" cy="125.9"/><circle cx="919.2" cy="157.6"/><circle cx="998.9" cy="138.9"/><circle cx="925.2" cy="152.0"/><circle cx="1002.3" cy="134.0"/><circle cx="937.9" cy="140.8"/><circle cx="955.7" cy="126.3"/><circle cx="935.7" cy="143.6"/><circle cx="919.9" cy="159.3"/><circle cx="1013.8" cy="96.1"/><circle cx="959.0" cy="125.7"/><circle cx="958.4" cy="126.2"/><circle cx="952.6" cy="130.9"/><circle cx="992.2" cy="141.2"/><circle cx="934.1" cy="147.8"/><circle cx="975.2" cy="159.3"/><circle cx="949.5" cy="134.9"/><circle cx="939.5" cy="143.6"/><circle cx="963.4" cy="124.2"/><circle cx="1006.2" cy="120.2"/><circle cx="990.1" cy="141.9"/><circle cx="977.3" cy="115.1"/><circle cx="993.7" cy="137.6"/><circle cx="944.0" cy="140.5"/><circle cx="951.3" cy="134.7"/><circle cx="943.9" cy="185.1"/><circle cx="972.7" cy="118.9"/><circle cx="998.8" cy="129.5"/><circle cx="987.9" cy="110.8"/><circle cx="960.9" cy="128.0"/><circle cx="983.3" cy="113.4"/><circle cx="984.4" cy="112.8"/><circle cx="999.1" cy="127.4"/><circle cx="996.4" cy="131.2"/><circle cx="1004.5" cy="115.9"/><circle cx="1004.3" cy="116.0"/><circle cx="952.0" cy="177.1"/><circle cx="948.0" cy="180.3"/><circle cx="947.7" cy="139.5"/><circle cx="1001.4" cy="120.9"/><circle cx="999.7" cy="124.1"/><circle cx="968.4" cy="123.9"/><circle cx="962.9" cy="127.7"/><circle cx="985.7" cy="143.3"/><circle cx="990.7" cy="111.6"/><circle cx="956.6" cy="132.8"/><circle cx="997.4" cy="127.3"/><circle cx="996.3" cy="111.0"/><circle cx="991.0" cy="135.9"/><circle cx="999.5" cy="112.3"/><circle cx="945.0" cy="142.8"/><circle cx="993.3" cy="112.8"/></g><g color="#460a5d"><circle cx="992.3" cy="131.9"/><circle cx="982.7" cy="144.4"/><circle cx="986.2" cy="139.9"/><circle cx="923.7" cy="164.4"/><circle cx="996.8" cy="116.7"/><circle cx="979.1" cy="119.8"/><circle cx="995.4" cy="125.1"/><circle cx="988.5" cy="116.1"/><circle cx="996.1" cy="118.8"/><circle cx="960.8" cy="132.0"/><circle cx="956.0" cy="170.3"/><circle cx="992.8" cy="128.3"/><circle cx="987.5" cy="136.7"/><circle cx="951.7" cy="139.6"/><circle cx="975.8" cy="150.3"/><circle cx="942.5" cy="181.1"/><circle cx="991.6" cy="119.4"/><circle cx="985.0" cy="119.9"/><circle cx="958.9" cy="166.5"/><circle cx="988.1" cy="119.5"/><circle cx="959.3" cy="134.6"/><circle cx="991.8" cy="123.6"/><circle cx="964.6" cy="131.0"/><circle cx="957.3" cy="136.3"/><circle cx="946.3" cy="177.3"/><circle cx="973.3" cy="125.9"/><circle cx="941.3" cy="181.1"/><circle cx="988.9" cy="128.3"/><circle cx="978.8" cy="144.4"/><circle cx="989.0" cy="124.0"/><circle cx="935.5" cy="156.0"/><circle cx="987.7" cy="130.9"/><circle cx="981.4" cy="123.3"/><circle cx="971.3" cy="128.0"/><circle cx="937.4" cy="184.9"/><circle cx="984.3" cy="135.5"/><circle cx="967.4" cy="156.3"/><circle cx="948.5" cy="145.0"/><circle cx="968.0" cy="130.6"/><circle cx="970.5" cy="152.9"/><circle cx="944.6" cy="148.5"/><circle cx="983.8" cy="125.0"/><circle cx="961.1" cy="161.9"/><circle cx="936.9" cy="155.8"/><circle cx="952.1" cy="142.8"/><circle cx="956.2" cy="139.9"/><circle cx="984.0" cy="127.7"/><circle cx="980.1" cy="127.1"/></g><g color="#471365"><circle cx="980.4" cy="138.7"/><circle cx="981.6" cy="136.0"/><circle cx="983.1" cy="131.1"/><circle cx="977.2" cy="128.9"/><circle cx="943.2" cy="151.6"/><circle cx="972.0" cy="131.2"/><circle cx="964.7" cy="135.2"/><circle cx="981.3" cy="131.6"/><circle cx="932.3" cy="161.4"/><circle cx="976.1" cy="131.1"/><circle cx="977.0" cy="138.9"/><circle cx="967.5" cy="136.2"/><circle cx="975.9" cy="135.4"/><circle cx="973.1" cy="134.6"/><circle cx="949.1" cy="149.1"/><circle cx="955.1" cy="163.9"/><circle cx="960.7" cy="140.7"/><circle cx="956.1" cy="144.0"/><circle cx="971.8" cy="143.9"/><circle cx="948.4" cy="171.1"/></g><g color="#481c6e"><circle cx="973.2" cy="139.4"/><circle cx="941.1" cy="156.4"/><circle cx="953.4" cy="146.9"/><circle cx="951.7" cy="167.0"/><circle cx="962.6" cy="154.4"/><circle cx="936.0" cy="160.3"/><circle cx="968.4" cy="146.8"/><circle cx="949.1" cy="150.7"/><circle cx="967.4" cy="139.9"/><circle cx="964.4" cy="140.9"/><circle cx="939.7" cy="178.6"/><circle cx="931.3" cy="164.4"/><circle cx="937.7" cy="180.5"/><circle cx="968.3" cy="143.2"/><circle cx="943.1" cy="155.7"/><circle cx="953.2" cy="164.2"/><circle cx="929.5" cy="166.1"/><circle cx="964.8" cy="142.6"/><circle cx="961.0" cy="144.1"/><circle cx="964.5" cy="147.9"/><circle cx="955.4" cy="148.8"/></g><g color="#482475"><circle cx="961.2" cy="146.6"/><circle cx="960.4" cy="151.9"/><circle cx="955.4" cy="159.2"/><circle cx="957.6" cy="154.9"/><circle cx="951.2" cy="152.7"/><circle cx="943.0" cy="174.7"/><circle cx="955.4" cy="151.9"/><circle cx="948.1" cy="154.9"/><circle cx="953.3" cy="155.3"/><circle cx="949.4" cy="166.7"/></g><g color="#472d7b"><circle cx="944.3" cy="172.7"/><circle cx="951.0" cy="160.8"/></g><g color="#463480"><circle cx="933.6" cy="164.9"/><circle cx="940.7" cy="160.7"/></g><g color="#443b84"><circle cx="948.6" cy="160.9"/><circle cx="926.0" cy="172.0"/><circle cx="947.8" cy="163.9"/></g><g color="#414487"><circle cx="944.6" cy="160.9"/><circle cx="936.0" cy="178.7"/><circle cx="939.5" cy="175.2"/></g><g color="#3e4a89"><circle cx="941.4" cy="172.7"/></g><g color="#38598c"><circle cx="944.2" cy="164.5"/></g><g color="#355f8d"><circle cx="922.5" cy="176.5"/><circle cx="932.3" cy="184.3"/><circle cx="943.6" cy="167.2"/><circle cx="940.7" cy="164.4"/></g><g color="#31668e"><circle cx="922.2" cy="177.3"/><circle cx="934.4" cy="167.8"/><circle cx="922.6" cy="184.6"/></g><g color="#2c728e"><circle cx="932.9" cy="169.6"/></g><g color="#2a788e"><circle cx="941.0" cy="167.2"/></g><g color="#277e8e"><circle cx="931.7" cy="183.5"/></g><g color="#25848e"><circle cx="936.6" cy="168.2"/><circle cx="931.4" cy="172.2"/><circle cx="935.2" cy="174.7"/></g><g color="#1f968b"><circle cx="922.6" cy="182.1"/></g><g color="#25848e"><circle cx="922.5" cy="182.8"/></g><g color="#1f968b"><circle cx="937.0" cy="171.2"/></g><g color="#1e9c89"><circle cx="929.6" cy="184.7"/><circle cx="924.7" cy="184.5"/></g><g color="#1f968b"><circle cx="925.0" cy="176.2"/></g><g color="#28ae80"><circle cx="927.2" cy="185.0"/></g><g color="#1fa287"><circle cx="927.1" cy="185.2"/></g><g color="#21918c"><circle cx="922.5" cy="179.8"/></g><g color="#2fb47c"><circle cx="931.1" cy="176.3"/></g><g color="#38b977"><circle cx="924.7" cy="177.6"/></g><g color="#8bd646"><circle cx="930.2" cy="177.5"/></g><g color="#addc30"><circle cx="930.0" cy="182.0"/></g><g color="#9bd93c"><circle cx="924.9" cy="182.6"/></g><g color="#fde725"><circle cx="927.5" cy="182.9"/></g><g color="#addc30"><circle cx="929.6" cy="182.7"/></g><g color="#fde725"><circle cx="929.8" cy="180.0"/></g><g color="#bddf26"><circle cx="924.5" cy="180.1"/></g><g color="#fde725"><circle cx="928.0" cy="177.9"/><circle cx="927.4" cy="180.0"/></g></g>
<path d="M917.30 58.70V189.70M917.30 189.70H1067.95M977.56 58.70V189.70M917.30 137.30H1067.95M1037.82 58.70V189.70M917.30 84.90H1067.95" stroke="#b0b0b0" stroke-width="1.6" fill="none"/>
<path d="M917.30 189.70L1067.95 58.70" stroke="#000" stroke-width="3.5" stroke-dasharray="13 6.5" fill="none" clip-path="url(#c3)"/>
<rect x="917.3" y="58.7" width="150.65" height="131.0" fill="none" stroke="#000" stroke-width="1.6"/>
<path d="M917.30 189.70v7M917.30 189.70h-7M977.56 189.70v7M917.30 137.30h-7M1037.82 189.70v7M917.30 84.90h-7" stroke="#000" stroke-width="1.6" fill="none"/>
<text x="917.30" y="216.70" font-size="17.80" textLength="10.18" lengthAdjust="spacingAndGlyphs" text-anchor="middle">0</text>
<text x="902.80" y="195.55" font-size="17.80" textLength="10.18" lengthAdjust="spacingAndGlyphs" text-anchor="end">0</text>
<text x="977.56" y="216.70" font-size="17.80" textLength="40.72" lengthAdjust="spacingAndGlyphs" text-anchor="middle">2000</text>
<text x="902.80" y="143.15" font-size="17.80" textLength="40.72" lengthAdjust="spacingAndGlyphs" text-anchor="end">2000</text>
<text x="1037.82" y="216.70" font-size="17.80" textLength="40.72" lengthAdjust="spacingAndGlyphs" text-anchor="middle">4000</text>
<text x="902.80" y="90.75" font-size="17.80" textLength="40.72" lengthAdjust="spacingAndGlyphs" text-anchor="end">4000</text>
<text x="922.90" y="77.70" font-size="17.80" textLength="21.13" lengthAdjust="spacingAndGlyphs">(d)</text>
<text x="992.62" y="27.70" font-size="17.80" textLength="29.45" lengthAdjust="spacingAndGlyphs" text-anchor="middle">Apr</text>
<text x="992.62" y="46.00" font-size="17.80" textLength="95.62" lengthAdjust="spacingAndGlyphs" text-anchor="middle">KGE=0.866</text>
<text x="992.42" y="239.10" font-size="15.58" textLength="67.76" lengthAdjust="spacingAndGlyphs" text-anchor="middle">Observed</text>
<text x="895.36" y="257.80" font-size="15.58" textLength="70.32" lengthAdjust="spacingAndGlyphs">(MJ mm h</text><text x="986.69" y="257.80" font-size="15.58" textLength="17.03" lengthAdjust="spacingAndGlyphs">ha</text><text x="1024.32" y="257.80" font-size="15.58" textLength="44.88" lengthAdjust="spacingAndGlyphs">month</text><text x="1085.22" y="257.80" font-size="15.58" textLength="4.66" lengthAdjust="spacingAndGlyphs">)</text><text x="967.03" y="251.80" font-size="10.68" textLength="7.28" lengthAdjust="spacingAndGlyphs">−</text><text x="974.91" y="251.90" font-size="10.68" textLength="6.10" lengthAdjust="spacingAndGlyphs">1</text><text x="1004.83" y="251.80" font-size="10.68" textLength="7.28" lengthAdjust="spacingAndGlyphs">−</text><text x="1012.71" y="251.90" font-size="10.68" textLength="6.10" lengthAdjust="spacingAndGlyphs">1</text><text x="1070.43" y="251.80" font-size="10.68" textLength="7.28" lengthAdjust="spacingAndGlyphs">−</text><text x="1078.31" y="251.90" font-size="10.68" textLength="6.10" lengthAdjust="spacingAndGlyphs">1</text>
<g transform="translate(848.80,124.20) rotate(-90)">
<text x="-0.75" y="-17.90" font-size="15.58" textLength="72.00" lengthAdjust="spacingAndGlyphs" text-anchor="middle">Estimated</text>
<text x="-97.27" y="0.00" font-size="15.58" textLength="70.32" lengthAdjust="spacingAndGlyphs">(MJ mm h</text><text x="-5.93" y="0.00" font-size="15.58" textLength="17.03" lengthAdjust="spacingAndGlyphs">ha</text><text x="31.70" y="0.00" font-size="15.58" textLength="44.88" lengthAdjust="spacingAndGlyphs">month</text><text x="92.60" y="0.00" font-size="15.58" textLength="4.66" lengthAdjust="spacingAndGlyphs">)</text><text x="-25.60" y="-6.00" font-size="10.68" textLength="7.28" lengthAdjust="spacingAndGlyphs">−</text><text x="-17.72" y="-5.90" font-size="10.68" textLength="6.10" lengthAdjust="spacingAndGlyphs">1</text><text x="12.20" y="-6.00" font-size="10.68" textLength="7.28" lengthAdjust="spacingAndGlyphs">−</text><text x="20.08" y="-5.90" font-size="10.68" textLength="6.10" lengthAdjust="spacingAndGlyphs">1</text><text x="77.80" y="-6.00" font-size="10.68" textLength="7.28" lengthAdjust="spacingAndGlyphs">−</text><text x="85.68" y="-5.90" font-size="10.68" textLength="6.10" lengthAdjust="spacingAndGlyphs">1</text>
</g>
<clipPath id="c4"><rect x="113.0" y="322.2" width="150.65" height="131.0"/></clipPath>
<g class="sc" clip-path="url(#c4)"><g color="#440154"><circle cx="241.3" cy="407.5"/><circle cx="229.1" cy="407.5"/><circle cx="179.9" cy="444.0"/><circle cx="200.1" cy="408.4"/><circle cx="197.6" cy="403.1"/><circle cx="134.3" cy="394.8"/><circle cx="184.3" cy="421.5"/><circle cx="191.6" cy="408.1"/><circle cx="196.7" cy="397.0"/><circle cx="193.2" cy="403.0"/><circle cx="190.8" cy="407.0"/><circle cx="187.9" cy="411.8"/><circle cx="184.1" cy="415.0"/><circle cx="193.0" cy="394.6"/><circle cx="150.8" cy="449.2"/><circle cx="188.3" cy="405.4"/><circle cx="180.6" cy="417.8"/><circle cx="190.4" cy="398.0"/><circle cx="179.9" cy="417.5"/><circle cx="178.4" cy="419.4"/><circle cx="186.5" cy="406.7"/><circle cx="188.4" cy="401.0"/><circle cx="152.0" cy="445.8"/><circle cx="188.5" cy="391.4"/><circle cx="151.7" cy="445.9"/><circle cx="178.1" cy="417.7"/><circle cx="188.5" cy="393.9"/><circle cx="176.1" cy="420.0"/><circle cx="185.7" cy="402.2"/><circle cx="186.6" cy="398.3"/><circle cx="186.3" cy="392.4"/><circle cx="186.4" cy="394.2"/><circle cx="178.3" cy="414.7"/><circle cx="146.2" cy="396.9"/><circle cx="180.4" cy="410.7"/><circle cx="152.1" cy="443.3"/><circle cx="151.7" cy="394.2"/><circle cx="182.3" cy="406.1"/><circle cx="157.0" cy="391.9"/><circle cx="181.4" cy="391.2"/><circle cx="163.1" cy="390.3"/><circle cx="142.8" cy="400.1"/><circle cx="168.2" cy="425.7"/><circle cx="182.2" cy="398.1"/><circle cx="181.6" cy="400.7"/><circle cx="170.8" cy="421.4"/><circle cx="172.9" cy="417.1"/><circle cx="152.5" cy="396.8"/><circle cx="173.6" cy="392.5"/><circle cx="174.5" cy="413.6"/><circle cx="176.3" cy="410.3"/><circle cx="140.4" cy="404.1"/><circle cx="149.4" cy="442.2"/><circle cx="145.2" cy="401.5"/><circle cx="144.1" cy="447.9"/><circle cx="171.3" cy="393.6"/><circle cx="142.9" cy="403.2"/><circle cx="176.7" cy="405.4"/><circle cx="148.7" cy="442.3"/><circle cx="177.0" cy="402.1"/><circle cx="176.2" cy="398.4"/><circle cx="151.6" cy="438.8"/><circle cx="166.9" cy="422.4"/><circle cx="144.5" cy="402.8"/><circle cx="120.9" cy="420.9"/><circle cx="164.6" cy="424.9"/><circle cx="149.6" cy="400.7"/><circle cx="173.5" cy="410.2"/><circle cx="174.4" cy="406.6"/><circle cx="173.4" cy="398.9"/><circle cx="169.4" cy="416.8"/><circle cx="174.1" cy="401.8"/><circle cx="170.5" cy="397.3"/><circle cx="139.6" cy="407.2"/><circle cx="157.5" cy="398.3"/><circle cx="161.8" cy="426.0"/><circle cx="126.9" cy="417.8"/><circle cx="165.3" cy="398.5"/><circle cx="146.4" cy="441.8"/><circle cx="162.5" cy="398.9"/><circle cx="170.1" cy="401.6"/><circle cx="164.7" cy="420.6"/><circle cx="137.6" cy="410.3"/><circle cx="138.6" cy="409.6"/><circle cx="169.8" cy="410.4"/><circle cx="118.0" cy="427.3"/><circle cx="152.6" cy="402.2"/><circle cx="168.5" cy="412.8"/><circle cx="120.1" cy="425.6"/><circle cx="144.3" cy="406.8"/><circle cx="164.6" cy="419.1"/><circle cx="169.1" cy="406.9"/><circle cx="157.7" cy="402.0"/><circle cx="164.7" cy="402.0"/><circle cx="148.9" cy="405.4"/><circle cx="157.3" cy="427.3"/><circle cx="160.5" cy="402.3"/><circle cx="133.5" cy="415.1"/><circle cx="152.6" cy="432.1"/><circle cx="165.9" cy="413.1"/><circle cx="161.8" cy="420.6"/></g><g color="#460a5d"><circle cx="165.4" cy="406.4"/><circle cx="140.9" cy="410.9"/><circle cx="165.0" cy="410.4"/><circle cx="162.1" cy="405.4"/><circle cx="153.3" cy="406.1"/><circle cx="158.2" cy="405.5"/><circle cx="136.3" cy="415.1"/><circle cx="158.3" cy="422.2"/><circle cx="131.5" cy="419.2"/><circle cx="139.8" cy="446.1"/><circle cx="161.2" cy="416.9"/><circle cx="144.4" cy="438.9"/><circle cx="137.6" cy="448.3"/><circle cx="161.4" cy="408.6"/><circle cx="161.8" cy="413.5"/><circle cx="130.1" cy="421.1"/><circle cx="150.5" cy="430.6"/><circle cx="134.7" cy="417.7"/><circle cx="124.6" cy="426.3"/><circle cx="145.3" cy="411.1"/><circle cx="158.2" cy="408.6"/><circle cx="154.5" cy="408.9"/><circle cx="140.6" cy="414.4"/><circle cx="146.0" cy="434.1"/><circle cx="141.9" cy="441.1"/><circle cx="149.4" cy="411.0"/><circle cx="157.7" cy="417.5"/><circle cx="136.8" cy="447.8"/><circle cx="157.9" cy="414.8"/><circle cx="118.7" cy="433.8"/><circle cx="146.6" cy="412.7"/><circle cx="137.3" cy="418.2"/><circle cx="138.9" cy="445.1"/><circle cx="142.7" cy="438.0"/><circle cx="129.1" cy="425.5"/><circle cx="153.7" cy="420.6"/><circle cx="153.0" cy="414.7"/><circle cx="149.8" cy="425.6"/></g><g color="#471365"><circle cx="149.7" cy="414.6"/><circle cx="153.0" cy="418.8"/><circle cx="145.2" cy="430.6"/><circle cx="134.3" cy="422.9"/><circle cx="124.9" cy="430.3"/><circle cx="150.5" cy="417.0"/><circle cx="141.9" cy="418.4"/><circle cx="142.7" cy="433.7"/><circle cx="144.8" cy="417.6"/><circle cx="132.5" cy="425.3"/><circle cx="137.2" cy="445.2"/><circle cx="148.5" cy="421.8"/><circle cx="138.4" cy="443.1"/><circle cx="138.4" cy="422.8"/><circle cx="144.4" cy="427.1"/><circle cx="144.1" cy="421.2"/><circle cx="140.2" cy="422.5"/><circle cx="141.7" cy="430.3"/><circle cx="118.0" cy="439.6"/><circle cx="142.0" cy="425.8"/><circle cx="137.5" cy="425.7"/><circle cx="118.6" cy="438.9"/></g><g color="#481c6e"><circle cx="129.4" cy="430.8"/><circle cx="133.0" cy="429.9"/><circle cx="117.9" cy="442.5"/><circle cx="136.5" cy="431.1"/><circle cx="133.1" cy="447.3"/><circle cx="117.7" cy="447.1"/><circle cx="136.2" cy="432.8"/></g><g color="#482475"><circle cx="132.2" cy="432.6"/><circle cx="136.6" cy="436.9"/><circle cx="120.1" cy="444.8"/><circle cx="120.1" cy="444.6"/><circle cx="128.3" cy="433.3"/></g><g color="#472d7b"><circle cx="119.6" cy="447.2"/><circle cx="125.9" cy="434.9"/></g><g color="#463480"><circle cx="115.4" cy="450.5"/><circle cx="122.8" cy="447.3"/><circle cx="134.2" cy="436.9"/><circle cx="125.8" cy="447.1"/></g><g color="#443b84"><circle cx="120.7" cy="447.7"/></g><g color="#414487"><circle cx="120.2" cy="455.4"/><circle cx="133.6" cy="442.8"/></g><g color="#3b528b"><circle cx="117.2" cy="449.7"/><circle cx="126.6" cy="436.9"/></g><g color="#31668e"><circle cx="129.5" cy="444.7"/></g><g color="#2c728e"><circle cx="124.6" cy="450.5"/></g><g color="#277e8e"><circle cx="129.4" cy="438.6"/></g><g color="#25848e"><circle cx="126.7" cy="441.2"/></g><g color="#238a8d"><circle cx="117.6" cy="452.2"/></g><g color="#1f968b"><circle cx="128.9" cy="441.6"/></g><g color="#28ae80"><circle cx="120.3" cy="450.3"/></g><g color="#22a884"><circle cx="122.4" cy="450.4"/></g><g color="#8bd646"><circle cx="122.1" cy="452.2"/></g><g color="#7ad151"><circle cx="119.9" cy="452.6"/></g></g>
<path d="M113.00 322.20V453.20M113.00 453.20H263.65M173.26 322.20V453.20M113.00 400.80H263.65M233.52 322.20V453.20M113.00 348.40H263.65" stroke="#b0b0b0" stroke-width="1.6" fill="none"/>
<path d="M113.00 453.20L263.65 322.20" stroke="#000" stroke-width="3.5" stroke-dasharray="13 6.5" fill="none" clip-path="url(#c4)"/>
<rect x="113.0" y="322.2" width="150.65" height="131.0" fill="none" stroke="#000" stroke-width="1.6"/>
<path d="M113.00 453.20v7M113.00 453.20h-7M173.26 453.20v7M113.00 400.80h-7M233.52 453.20v7M113.00 348.40h-7" stroke="#000" stroke-width="1.6" fill="none"/>
<text x="113.00" y="480.20" font-size="17.80" textLength="10.18" lengthAdjust="spacingAndGlyphs" text-anchor="middle">0</text>
<text x="98.50" y="459.05" font-size="17.80" textLength="10.18" lengthAdjust="spacingAndGlyphs" text-anchor="end">0</text>
<text x="173.26" y="480.20" font-size="17.80" textLength="40.72" lengthAdjust="spacingAndGlyphs" text-anchor="middle">2000</text>
<text x="98.50" y="406.65" font-size="17.80" textLength="40.72" lengthAdjust="spacingAndGlyphs" text-anchor="end">2000</text>
<text x="233.52" y="480.20" font-size="17.80" textLength="40.72" lengthAdjust="spacingAndGlyphs" text-anchor="middle">4000</text>
<text x="98.50" y="354.25" font-size="17.80" textLength="40.72" lengthAdjust="spacingAndGlyphs" text-anchor="end">4000</text>
<text x="118.60" y="341.20" font-size="17.80" textLength="20.35" lengthAdjust="spacingAndGlyphs">(e)</text>
<text x="188.32" y="291.20" font-size="17.80" textLength="34.96" lengthAdjust="spacingAndGlyphs" text-anchor="middle">May</text>
<text x="188.32" y="309.50" font-size="17.80" textLength="95.62" lengthAdjust="spacingAndGlyphs" text-anchor="middle">KGE=0.854</text>
<text x="188.12" y="502.60" font-size="15.58" textLength="67.76" lengthAdjust="spacingAndGlyphs" text-anchor="middle">Observed</text>
<text x="91.06" y="521.30" font-size="15.58" textLength="70.32" lengthAdjust="spacingAndGlyphs">(MJ mm h</text><text x="182.39" y="521.30" font-size="15.58" textLength="17.03" lengthAdjust="spacingAndGlyphs">ha</text><text x="220.02" y="521.30" font-size="15.58" textLength="44.88" lengthAdjust="spacingAndGlyphs">month</text><text x="280.92" y="521.30" font-size="15.58" textLength="4.66" lengthAdjust="spacingAndGlyphs">)</text><text x="162.73" y="515.30" font-size="10.68" textLength="7.28" lengthAdjust="spacingAndGlyphs">−</text><text x="170.61" y="515.40" font-size="10.68" textLength="6.10" lengthAdjust="spacingAndGlyphs">1</text><text x="200.53" y="515.30" font-size="10.68" textLength="7.28" lengthAdjust="spacingAndGlyphs">−</text><text x="208.41" y="515.40" font-size="10.68" textLength="6.10" lengthAdjust="spacingAndGlyphs">1</text><text x="266.13" y="515.30" font-size="10.68" textLength="7.28" lengthAdjust="spacingAndGlyphs">−</text><text x="274.01" y="515.40" font-size="10.68" textLength="6.10" lengthAdjust="spacingAndGlyphs">1</text>
<g transform="translate(44.50,387.70) rotate(-90)">
<text x="-0.75" y="-17.90" font-size="15.58" textLength="72.00" lengthAdjust="spacingAndGlyphs" text-anchor="middle">Estimated</text>
<text x="-97.27" y="0.00" font-size="15.58" textLength="70.32" lengthAdjust="spacingAndGlyphs">(MJ mm h</text><text x="-5.93" y="0.00" font-size="15.58" textLength="17.03" lengthAdjust="spacingAndGlyphs">ha</text><text x="31.70" y="0.00" font-size="15.58" textLength="44.88" lengthAdjust="spacingAndGlyphs">month</text><text x="92.60" y="0.00" font-size="15.58" textLength="4.66" lengthAdjust="spacingAndGlyphs">)</text><text x="-25.60" y="-6.00" font-size="10.68" textLength="7.28" lengthAdjust="spacingAndGlyphs">−</text><text x="-17.72" y="-5.90" font-size="10.68" textLength="6.10" lengthAdjust="spacingAndGlyphs">1</text><text x="12.20" y="-6.00" font-size="10.68" textLength="7.28" lengthAdjust="spacingAndGlyphs">−</text><text x="20.08" y="-5.90" font-size="10.68" textLength="6.10" lengthAdjust="spacingAndGlyphs">1</text><text x="77.80" y="-6.00" font-size="10.68" textLength="7.28" lengthAdjust="spacingAndGlyphs">−</text><text x="85.68" y="-5.90" font-size="10.68" textLength="6.10" lengthAdjust="spacingAndGlyphs">1</text>
</g>
<clipPath id="c5"><rect x="381.1" y="322.2" width="150.65" height="131.0"/></clipPath>
<g class="sc" clip-path="url(#c5)"><g color="#440154"><circle cx="447.9" cy="398.7"/><circle cx="456.7" cy="425.0"/><circle cx="444.9" cy="404.1"/><circle cx="442.6" cy="401.7"/><circle cx="447.1" cy="408.4"/><circle cx="442.4" cy="404.1"/><circle cx="435.6" cy="397.8"/><circle cx="443.2" cy="407.2"/><circle cx="453.2" cy="429.4"/><circle cx="440.4" cy="404.5"/><circle cx="441.7" cy="406.1"/><circle cx="436.9" cy="402.8"/><circle cx="436.2" cy="403.0"/><circle cx="442.7" cy="414.0"/><circle cx="447.4" cy="424.5"/><circle cx="439.1" cy="410.4"/><circle cx="444.0" cy="421.0"/><circle cx="436.0" cy="408.1"/><circle cx="426.0" cy="399.6"/><circle cx="429.1" cy="402.6"/><circle cx="443.1" cy="422.7"/><circle cx="433.2" cy="407.9"/><circle cx="440.9" cy="419.5"/><circle cx="435.5" cy="410.9"/><circle cx="437.3" cy="414.6"/><circle cx="441.8" cy="425.6"/><circle cx="440.7" cy="422.9"/><circle cx="433.6" cy="411.8"/><circle cx="437.5" cy="418.4"/><circle cx="440.3" cy="425.1"/><circle cx="428.0" cy="408.3"/><circle cx="437.5" cy="422.8"/><circle cx="423.0" cy="404.7"/><circle cx="408.5" cy="396.9"/><circle cx="425.2" cy="407.3"/><circle cx="431.5" cy="415.7"/><circle cx="427.4" cy="411.6"/><circle cx="418.0" cy="403.9"/><circle cx="431.9" cy="419.5"/><circle cx="424.1" cy="410.1"/><circle cx="436.0" cy="428.6"/><circle cx="428.7" cy="415.9"/><circle cx="433.3" cy="423.4"/><circle cx="436.5" cy="433.8"/><circle cx="419.8" cy="408.0"/><circle cx="416.6" cy="406.5"/><circle cx="409.6" cy="403.2"/><circle cx="428.3" cy="419.7"/><circle cx="432.5" cy="428.3"/><circle cx="411.3" cy="405.1"/><circle cx="421.2" cy="412.6"/><circle cx="415.6" cy="408.3"/><circle cx="432.6" cy="430.8"/><circle cx="423.6" cy="415.9"/><circle cx="432.5" cy="432.0"/><circle cx="428.1" cy="422.4"/><circle cx="425.6" cy="418.8"/><circle cx="409.3" cy="405.8"/><circle cx="429.3" cy="426.5"/><circle cx="412.8" cy="408.6"/><circle cx="416.0" cy="411.0"/><circle cx="421.4" cy="416.1"/><circle cx="425.1" cy="422.3"/><circle cx="412.7" cy="411.0"/><circle cx="429.1" cy="432.8"/><circle cx="427.2" cy="430.9"/><circle cx="425.3" cy="426.5"/><circle cx="415.3" cy="414.5"/><circle cx="420.1" cy="420.2"/><circle cx="409.0" cy="412.5"/><circle cx="421.2" cy="424.1"/><circle cx="412.2" cy="415.5"/><circle cx="424.2" cy="430.9"/><circle cx="417.2" cy="420.5"/><circle cx="426.0" cy="446.1"/><circle cx="420.6" cy="426.3"/><circle cx="405.8" cy="414.0"/><circle cx="424.0" cy="439.0"/><circle cx="408.6" cy="416.4"/><circle cx="416.1" cy="423.2"/><circle cx="422.7" cy="440.0"/><circle cx="419.8" cy="430.8"/><circle cx="411.6" cy="420.6"/><circle cx="422.2" cy="442.3"/><circle cx="421.7" cy="438.5"/><circle cx="421.9" cy="443.8"/><circle cx="413.1" cy="423.8"/><circle cx="408.8" cy="420.2"/><circle cx="415.5" cy="426.9"/><circle cx="401.6" cy="416.6"/><circle cx="419.7" cy="436.1"/><circle cx="420.1" cy="449.3"/><circle cx="419.3" cy="443.2"/><circle cx="415.7" cy="431.0"/><circle cx="407.3" cy="422.0"/><circle cx="412.2" cy="427.1"/><circle cx="417.2" cy="440.3"/><circle cx="415.9" cy="436.3"/><circle cx="417.0" cy="442.6"/><circle cx="411.2" cy="430.2"/><circle cx="414.9" cy="448.5"/><circle cx="398.5" cy="421.8"/><circle cx="403.9" cy="424.5"/><circle cx="400.7" cy="423.4"/><circle cx="407.7" cy="428.0"/><circle cx="411.1" cy="434.7"/><circle cx="409.2" cy="431.8"/><circle cx="404.2" cy="426.8"/><circle cx="412.5" cy="440.5"/><circle cx="412.3" cy="442.6"/><circle cx="392.9" cy="423.8"/><circle cx="400.9" cy="427.3"/><circle cx="395.9" cy="426.4"/><circle cx="407.5" cy="436.0"/><circle cx="405.7" cy="434.1"/><circle cx="408.7" cy="442.5"/><circle cx="407.9" cy="449.2"/><circle cx="392.0" cy="427.6"/><circle cx="403.5" cy="432.5"/><circle cx="407.2" cy="440.5"/><circle cx="387.6" cy="429.6"/><circle cx="389.9" cy="429.3"/><circle cx="399.3" cy="431.9"/><circle cx="404.5" cy="440.2"/><circle cx="392.1" cy="431.3"/><circle cx="400.7" cy="435.4"/><circle cx="395.5" cy="432.3"/><circle cx="386.9" cy="433.1"/><circle cx="403.9" cy="442.1"/><circle cx="402.1" cy="448.1"/><circle cx="396.9" cy="435.4"/><circle cx="388.3" cy="435.4"/><circle cx="399.2" cy="438.8"/><circle cx="387.6" cy="436.6"/><circle cx="400.5" cy="443.4"/><circle cx="392.9" cy="435.8"/><circle cx="386.1" cy="438.6"/></g><g color="#460a5d"><circle cx="396.7" cy="439.8"/><circle cx="387.0" cy="449.0"/><circle cx="385.3" cy="451.9"/><circle cx="386.7" cy="445.6"/></g><g color="#471365"><circle cx="392.9" cy="449.0"/><circle cx="396.9" cy="442.7"/><circle cx="387.1" cy="443.3"/><circle cx="387.6" cy="446.4"/><circle cx="384.9" cy="446.3"/><circle cx="391.2" cy="439.4"/></g><g color="#481c6e"><circle cx="391.0" cy="447.5"/></g><g color="#472d7b"><circle cx="392.1" cy="446.4"/><circle cx="384.6" cy="448.9"/></g><g color="#463480"><circle cx="382.5" cy="451.4"/><circle cx="393.5" cy="444.2"/><circle cx="382.6" cy="446.7"/></g><g color="#355f8d"><circle cx="382.3" cy="448.7"/></g></g>
<path d="M381.10 322.20V453.20M381.10 453.20H531.75M441.36 322.20V453.20M381.10 400.80H531.75M501.62 322.20V453.20M381.10 348.40H531.75" stroke="#b0b0b0" stroke-width="1.6" fill="none"/>
<path d="M381.10 453.20L531.75 322.20" stroke="#000" stroke-width="3.5" stroke-dasharray="13 6.5" fill="none" clip-path="url(#c5)"/>
<rect x="381.1" y="322.2" width="150.65" height="131.0" fill="none" stroke="#000" stroke-width="1.6"/>
<path d="M381.10 453.20v7M381.10 453.20h-7M441.36 453.20v7M381.10 400.80h-7M501.62 453.20v7M381.10 348.40h-7" stroke="#000" stroke-width="1.6" fill="none"/>
<text x="381.10" y="480.20" font-size="17.80" textLength="10.18" lengthAdjust="spacingAndGlyphs" text-anchor="middle">0</text>
<text x="366.60" y="459.05" font-size="17.80" textLength="10.18" lengthAdjust="spacingAndGlyphs" text-anchor="end">0</text>
<text x="441.36" y="480.20" font-size="17.80" textLength="40.72" lengthAdjust="spacingAndGlyphs" text-anchor="middle">2000</text>
<text x="366.60" y="406.65" font-size="17.80" textLength="40.72" lengthAdjust="spacingAndGlyphs" text-anchor="end">2000</text>
<text x="501.62" y="480.20" font-size="17.80" textLength="40.72" lengthAdjust="spacingAndGlyphs" text-anchor="middle">4000</text>
<text x="366.60" y="354.25" font-size="17.80" textLength="40.72" lengthAdjust="spacingAndGlyphs" text-anchor="end">4000</text>
<text x="386.70" y="341.20" font-size="17.80" textLength="16.81" lengthAdjust="spacingAndGlyphs">(f)</text>
<text x="456.43" y="291.20" font-size="17.80" textLength="27.02" lengthAdjust="spacingAndGlyphs" text-anchor="middle">Jun</text>
<text x="456.43" y="309.50" font-size="17.80" textLength="95.62" lengthAdjust="spacingAndGlyphs" text-anchor="middle">KGE=0.856</text>
<text x="456.23" y="502.60" font-size="15.58" textLength="67.76" lengthAdjust="spacingAndGlyphs" text-anchor="middle">Observed</text>
<text x="359.16" y="521.30" font-size="15.58" textLength="70.32" lengthAdjust="spacingAndGlyphs">(MJ mm h</text><text x="450.49" y="521.30" font-size="15.58" textLength="17.03" lengthAdjust="spacingAndGlyphs">ha</text><text x="488.12" y="521.30" font-size="15.58" textLength="44.88" lengthAdjust="spacingAndGlyphs">month</text><text x="549.02" y="521.30" font-size="15.58" textLength="4.66" lengthAdjust="spacingAndGlyphs">)</text><text x="430.83" y="515.30" font-size="10.68" textLength="7.28" lengthAdjust="spacingAndGlyphs">−</text><text x="438.71" y="515.40" font-size="10.68" textLength="6.10" lengthAdjust="spacingAndGlyphs">1</text><text x="468.63" y="515.30" font-size="10.68" textLength="7.28" lengthAdjust="spacingAndGlyphs">−</text><text x="476.51" y="515.40" font-size="10.68" textLength="6.10" lengthAdjust="spacingAndGlyphs">1</text><text x="534.23" y="515.30" font-size="10.68" textLength="7.28" lengthAdjust="spacingAndGlyphs">−</text><text x="542.11" y="515.40" font-size="10.68" textLength="6.10" lengthAdjust="spacingAndGlyphs">1</text>
<g transform="translate(312.60,387.70) rotate(-90)">
<text x="-0.75" y="-17.90" font-size="15.58" textLength="72.00" lengthAdjust="spacingAndGlyphs" text-anchor="middle">Estimated</text>
<text x="-97.27" y="0.00" font-size="15.58" textLength="70.32" lengthAdjust="spacingAndGlyphs">(MJ mm h</text><text x="-5.93" y="0.00" font-size="15.58" textLength="17.03" lengthAdjust="spacingAndGlyphs">ha</text><text x="31.70" y="0.00" font-size="15.58" textLength="44.88" lengthAdjust="spacingAndGlyphs">month</text><text x="92.60" y="0.00" font-size="15.58" textLength="4.66" lengthAdjust="spacingAndGlyphs">)</text><text x="-25.60" y="-6.00" font-size="10.68" textLength="7.28" lengthAdjust="spacingAndGlyphs">−</text><text x="-17.72" y="-5.90" font-size="10.68" textLength="6.10" lengthAdjust="spacingAndGlyphs">1</text><text x="12.20" y="-6.00" font-size="10.68" textLength="7.28" lengthAdjust="spacingAndGlyphs">−</text><text x="20.08" y="-5.90" font-size="10.68" textLength="6.10" lengthAdjust="spacingAndGlyphs">1</text><text x="77.80" y="-6.00" font-size="10.68" textLength="7.28" lengthAdjust="spacingAndGlyphs">−</text><text x="85.68" y="-5.90" font-size="10.68" textLength="6.10" lengthAdjust="spacingAndGlyphs">1</text>
</g>
<clipPath id="c6"><rect x="649.2" y="322.2" width="150.65" height="131.0"/></clipPath>
<g class="sc" clip-path="url(#c6)"><g color="#440154"><circle cx="725.6" cy="415.4"/><circle cx="721.2" cy="431.2"/><circle cx="715.9" cy="421.5"/><circle cx="712.4" cy="416.2"/><circle cx="700.1" cy="403.1"/><circle cx="702.4" cy="408.7"/><circle cx="709.8" cy="433.8"/><circle cx="700.4" cy="412.3"/><circle cx="696.0" cy="408.9"/><circle cx="697.8" cy="413.5"/><circle cx="707.2" cy="437.3"/><circle cx="693.9" cy="411.3"/><circle cx="695.7" cy="413.7"/><circle cx="694.1" cy="412.3"/><circle cx="697.0" cy="417.9"/><circle cx="692.4" cy="413.1"/><circle cx="691.8" cy="412.7"/><circle cx="702.8" cy="439.9"/><circle cx="689.6" cy="413.6"/><circle cx="685.7" cy="411.5"/><circle cx="696.6" cy="426.8"/><circle cx="682.6" cy="409.2"/><circle cx="691.4" cy="418.2"/><circle cx="693.8" cy="425.5"/><circle cx="688.2" cy="417.2"/><circle cx="683.4" cy="412.8"/><circle cx="690.8" cy="422.3"/><circle cx="684.7" cy="417.8"/><circle cx="678.0" cy="413.1"/><circle cx="687.0" cy="422.0"/><circle cx="690.5" cy="428.9"/><circle cx="671.2" cy="410.1"/><circle cx="687.0" cy="425.4"/><circle cx="687.9" cy="428.4"/><circle cx="683.3" cy="421.5"/><circle cx="670.9" cy="412.3"/><circle cx="680.0" cy="418.4"/><circle cx="689.9" cy="434.4"/><circle cx="690.4" cy="446.8"/><circle cx="684.4" cy="426.1"/><circle cx="676.3" cy="417.7"/><circle cx="688.8" cy="440.7"/><circle cx="679.5" cy="421.7"/><circle cx="687.6" cy="446.1"/><circle cx="676.9" cy="420.6"/><circle cx="682.7" cy="428.1"/><circle cx="671.8" cy="417.5"/><circle cx="680.5" cy="425.4"/><circle cx="686.1" cy="448.6"/><circle cx="669.4" cy="417.3"/><circle cx="667.5" cy="417.5"/><circle cx="679.9" cy="429.0"/><circle cx="682.6" cy="434.5"/><circle cx="683.9" cy="440.5"/><circle cx="675.7" cy="424.8"/><circle cx="683.0" cy="438.4"/><circle cx="669.1" cy="420.1"/><circle cx="683.5" cy="444.3"/><circle cx="672.2" cy="422.5"/><circle cx="680.5" cy="432.9"/><circle cx="673.2" cy="425.1"/><circle cx="675.8" cy="428.2"/><circle cx="680.2" cy="437.2"/><circle cx="664.7" cy="421.2"/><circle cx="679.3" cy="448.4"/><circle cx="679.1" cy="441.1"/><circle cx="676.6" cy="433.3"/><circle cx="679.0" cy="445.0"/><circle cx="671.6" cy="428.9"/><circle cx="677.1" cy="438.6"/><circle cx="666.8" cy="426.4"/><circle cx="675.9" cy="442.5"/><circle cx="664.5" cy="426.4"/><circle cx="675.2" cy="448.7"/><circle cx="668.3" cy="429.1"/><circle cx="672.8" cy="434.3"/><circle cx="674.6" cy="445.9"/><circle cx="662.0" cy="427.1"/><circle cx="663.7" cy="428.3"/><circle cx="672.9" cy="440.6"/><circle cx="671.0" cy="437.4"/><circle cx="672.2" cy="446.4"/><circle cx="667.6" cy="434.7"/><circle cx="668.2" cy="437.8"/><circle cx="664.1" cy="433.5"/><circle cx="668.7" cy="446.4"/><circle cx="657.6" cy="431.7"/><circle cx="668.6" cy="442.5"/><circle cx="658.1" cy="432.0"/><circle cx="667.6" cy="448.0"/><circle cx="664.5" cy="437.4"/><circle cx="663.8" cy="440.5"/><circle cx="657.2" cy="436.1"/><circle cx="652.4" cy="449.8"/><circle cx="659.1" cy="437.4"/><circle cx="662.6" cy="444.6"/><circle cx="661.5" cy="447.3"/><circle cx="655.3" cy="449.5"/></g><g color="#460a5d"><circle cx="652.1" cy="446.8"/><circle cx="660.0" cy="440.2"/><circle cx="654.5" cy="440.0"/><circle cx="654.3" cy="447.7"/></g><g color="#471365"><circle cx="652.6" cy="444.9"/><circle cx="654.1" cy="447.2"/><circle cx="659.8" cy="446.0"/></g><g color="#481c6e"><circle cx="655.1" cy="446.9"/><circle cx="658.3" cy="446.7"/><circle cx="653.8" cy="445.4"/><circle cx="657.0" cy="447.0"/></g><g color="#472d7b"><circle cx="655.0" cy="444.6"/><circle cx="657.7" cy="444.6"/></g></g>
<path d="M649.20 322.20V453.20M649.20 453.20H799.85M709.46 322.20V453.20M649.20 400.80H799.85M769.72 322.20V453.20M649.20 348.40H799.85" stroke="#b0b0b0" stroke-width="1.6" fill="none"/>
<path d="M649.20 453.20L799.85 322.20" stroke="#000" stroke-width="3.5" stroke-dasharray="13 6.5" fill="none" clip-path="url(#c6)"/>
<rect x="649.2" y="322.2" width="150.65" height="131.0" fill="none" stroke="#000" stroke-width="1.6"/>
<path d="M649.20 453.20v7M649.20 453.20h-7M709.46 453.20v7M649.20 400.80h-7M769.72 453.20v7M649.20 348.40h-7" stroke="#000" stroke-width="1.6" fill="none"/>
<text x="649.20" y="480.20" font-size="17.80" textLength="10.18" lengthAdjust="spacingAndGlyphs" text-anchor="middle">0</text>
<text x="634.70" y="459.05" font-size="17.80" textLength="10.18" lengthAdjust="spacingAndGlyphs" text-anchor="end">0</text>
<text x="709.46" y="480.20" font-size="17.80" textLength="40.72" lengthAdjust="spacingAndGlyphs" text-anchor="middle">2000</text>
<text x="634.70" y="406.65" font-size="17.80" textLength="40.72" lengthAdjust="spacingAndGlyphs" text-anchor="end">2000</text>
<text x="769.72" y="480.20" font-size="17.80" textLength="40.72" lengthAdjust="spacingAndGlyphs" text-anchor="middle">4000</text>
<text x="634.70" y="354.25" font-size="17.80" textLength="40.72" lengthAdjust="spacingAndGlyphs" text-anchor="end">4000</text>
<text x="654.80" y="341.20" font-size="17.80" textLength="21.13" lengthAdjust="spacingAndGlyphs">(g)</text>
<text x="724.53" y="291.20" font-size="17.80" textLength="21.84" lengthAdjust="spacingAndGlyphs" text-anchor="middle">Jul</text>
<text x="724.53" y="309.50" font-size="17.80" textLength="95.62" lengthAdjust="spacingAndGlyphs" text-anchor="middle">KGE=0.776</text>
<text x="724.33" y="502.60" font-size="15.58" textLength="67.76" lengthAdjust="spacingAndGlyphs" text-anchor="middle">Observed</text>
<text x="627.26" y="521.30" font-size="15.58" textLength="70.32" lengthAdjust="spacingAndGlyphs">(MJ mm h</text><text x="718.59" y="521.30" font-size="15.58" textLength="17.03" lengthAdjust="spacingAndGlyphs">ha</text><text x="756.22" y="521.30" font-size="15.58" textLength="44.88" lengthAdjust="spacingAndGlyphs">month</text><text x="817.12" y="521.30" font-size="15.58" textLength="4.66" lengthAdjust="spacingAndGlyphs">)</text><text x="698.93" y="515.30" font-size="10.68" textLength="7.28" lengthAdjust="spacingAndGlyphs">−</text><text x="706.81" y="515.40" font-size="10.68" textLength="6.10" lengthAdjust="spacingAndGlyphs">1</text><text x="736.73" y="515.30" font-size="10.68" textLength="7.28" lengthAdjust="spacingAndGlyphs">−</text><text x="744.61" y="515.40" font-size="10.68" textLength="6.10" lengthAdjust="spacingAndGlyphs">1</text><text x="802.33" y="515.30" font-size="10.68" textLength="7.28" lengthAdjust="spacingAndGlyphs">−</text><text x="810.21" y="515.40" font-size="10.68" textLength="6.10" lengthAdjust="spacingAndGlyphs">1</text>
<g transform="translate(580.70,387.70) rotate(-90)">
<text x="-0.75" y="-17.90" font-size="15.58" textLength="72.00" lengthAdjust="spacingAndGlyphs" text-anchor="middle">Estimated</text>
<text x="-97.27" y="0.00" font-size="15.58" textLength="70.32" lengthAdjust="spacingAndGlyphs">(MJ mm h</text><text x="-5.93" y="0.00" font-size="15.58" textLength="17.03" lengthAdjust="spacingAndGlyphs">ha</text><text x="31.70" y="0.00" font-size="15.58" textLength="44.88" lengthAdjust="spacingAndGlyphs">month</text><text x="92.60" y="0.00" font-size="15.58" textLength="4.66" lengthAdjust="spacingAndGlyphs">)</text><text x="-25.60" y="-6.00" font-size="10.68" textLength="7.28" lengthAdjust="spacingAndGlyphs">−</text><text x="-17.72" y="-5.90" font-size="10.68" textLength="6.10" lengthAdjust="spacingAndGlyphs">1</text><text x="12.20" y="-6.00" font-size="10.68" textLength="7.28" lengthAdjust="spacingAndGlyphs">−</text><text x="20.08" y="-5.90" font-size="10.68" textLength="6.10" lengthAdjust="spacingAndGlyphs">1</text><text x="77.80" y="-6.00" font-size="10.68" textLength="7.28" lengthAdjust="spacingAndGlyphs">−</text><text x="85.68" y="-5.90" font-size="10.68" textLength="6.10" lengthAdjust="spacingAndGlyphs">1</text>
</g>
<clipPath id="c7"><rect x="917.3" y="322.2" width="150.65" height="131.0"/></clipPath>
<g class="sc" clip-path="url(#c7)"><g color="#440154"><circle cx="991.8" cy="448.7"/><circle cx="976.9" cy="426.8"/><circle cx="967.3" cy="417.1"/><circle cx="960.2" cy="410.1"/><circle cx="962.6" cy="418.5"/><circle cx="959.0" cy="419.9"/><circle cx="966.4" cy="449.6"/><circle cx="960.1" cy="423.9"/><circle cx="954.2" cy="420.7"/><circle cx="956.6" cy="424.3"/><circle cx="962.0" cy="438.2"/><circle cx="962.0" cy="448.2"/><circle cx="956.4" cy="427.4"/><circle cx="958.3" cy="432.5"/><circle cx="959.2" cy="436.6"/><circle cx="952.8" cy="423.8"/><circle cx="950.0" cy="420.7"/><circle cx="956.8" cy="431.0"/><circle cx="949.4" cy="421.2"/><circle cx="948.2" cy="420.5"/><circle cx="945.9" cy="418.9"/><circle cx="958.6" cy="443.6"/><circle cx="952.9" cy="427.1"/><circle cx="958.2" cy="447.9"/><circle cx="948.1" cy="423.7"/><circle cx="954.9" cy="435.6"/><circle cx="956.2" cy="445.3"/><circle cx="955.6" cy="440.1"/><circle cx="939.9" cy="419.5"/><circle cx="947.9" cy="426.8"/><circle cx="950.9" cy="431.6"/><circle cx="943.6" cy="423.0"/><circle cx="952.4" cy="440.3"/><circle cx="951.0" cy="437.2"/><circle cx="951.7" cy="449.1"/><circle cx="940.3" cy="423.9"/><circle cx="951.2" cy="444.3"/><circle cx="944.4" cy="428.9"/><circle cx="946.6" cy="432.4"/><circle cx="947.2" cy="436.9"/><circle cx="947.8" cy="439.2"/><circle cx="948.7" cy="445.1"/><circle cx="939.9" cy="427.2"/><circle cx="933.6" cy="424.3"/><circle cx="942.6" cy="432.0"/><circle cx="934.9" cy="425.2"/><circle cx="945.8" cy="449.4"/><circle cx="944.4" cy="439.0"/><circle cx="943.4" cy="436.7"/><circle cx="932.2" cy="425.9"/><circle cx="937.1" cy="428.9"/><circle cx="928.6" cy="424.7"/><circle cx="938.6" cy="432.7"/><circle cx="943.8" cy="445.1"/><circle cx="929.0" cy="426.7"/><circle cx="940.0" cy="436.7"/><circle cx="931.2" cy="428.7"/><circle cx="936.2" cy="432.2"/><circle cx="926.8" cy="428.0"/><circle cx="925.3" cy="428.3"/><circle cx="939.1" cy="438.9"/><circle cx="927.2" cy="429.3"/><circle cx="932.5" cy="431.6"/><circle cx="935.4" cy="434.9"/><circle cx="938.9" cy="445.1"/><circle cx="928.4" cy="431.8"/><circle cx="938.3" cy="447.7"/><circle cx="936.4" cy="440.1"/><circle cx="932.5" cy="436.2"/><circle cx="936.4" cy="444.0"/><circle cx="922.8" cy="433.0"/><circle cx="924.3" cy="433.3"/><circle cx="922.6" cy="433.7"/><circle cx="933.9" cy="447.6"/><circle cx="928.7" cy="437.3"/><circle cx="924.7" cy="436.3"/><circle cx="933.3" cy="447.4"/><circle cx="931.8" cy="441.3"/><circle cx="931.1" cy="444.6"/><circle cx="928.5" cy="440.2"/><circle cx="923.1" cy="439.3"/><circle cx="921.1" cy="453.1"/><circle cx="916.4" cy="448.0"/><circle cx="918.6" cy="450.7"/><circle cx="928.2" cy="444.6"/></g><g color="#460a5d"><circle cx="918.7" cy="448.1"/><circle cx="921.2" cy="450.6"/><circle cx="921.2" cy="442.6"/><circle cx="919.0" cy="445.2"/><circle cx="923.3" cy="450.7"/></g><g color="#471365"><circle cx="926.0" cy="448.7"/><circle cx="926.0" cy="448.2"/></g><g color="#482475"><circle cx="920.6" cy="447.8"/></g><g color="#443b84"><circle cx="923.3" cy="448.5"/><circle cx="924.2" cy="445.0"/><circle cx="921.4" cy="446.0"/></g><g color="#414487"><circle cx="923.7" cy="445.1"/></g><g color="#38598c"><circle cx="923.0" cy="446.2"/></g></g>
<path d="M917.30 322.20V453.20M917.30 453.20H1067.95M977.56 322.20V453.20M917.30 400.80H1067.95M1037.82 322.20V453.20M917.30 348.40H1067.95" stroke="#b0b0b0" stroke-width="1.6" fill="none"/>
<path d="M917.30 453.20L1067.95 322.20" stroke="#000" stroke-width="3.5" stroke-dasharray="13 6.5" fill="none" clip-path="url(#c7)"/>
<rect x="917.3" y="322.2" width="150.65" height="131.0" fill="none" stroke="#000" stroke-width="1.6"/>
<path d="M917.30 453.20v7M917.30 453.20h-7M977.56 453.20v7M917.30 400.80h-7M1037.82 453.20v7M917.30 348.40h-7" stroke="#000" stroke-width="1.6" fill="none"/>
<text x="917.30" y="480.20" font-size="17.80" textLength="10.18" lengthAdjust="spacingAndGlyphs" text-anchor="middle">0</text>
<text x="902.80" y="459.05" font-size="17.80" textLength="10.18" lengthAdjust="spacingAndGlyphs" text-anchor="end">0</text>
<text x="977.56" y="480.20" font-size="17.80" textLength="40.72" lengthAdjust="spacingAndGlyphs" text-anchor="middle">2000</text>
<text x="902.80" y="406.65" font-size="17.80" textLength="40.72" lengthAdjust="spacingAndGlyphs" text-anchor="end">2000</text>
<text x="1037.82" y="480.20" font-size="17.80" textLength="40.72" lengthAdjust="spacingAndGlyphs" text-anchor="middle">4000</text>
<text x="902.80" y="354.25" font-size="17.80" textLength="40.72" lengthAdjust="spacingAndGlyphs" text-anchor="end">4000</text>
<text x="922.90" y="341.20" font-size="17.80" textLength="21.19" lengthAdjust="spacingAndGlyphs">(h)</text>
<text x="992.62" y="291.20" font-size="17.80" textLength="32.10" lengthAdjust="spacingAndGlyphs" text-anchor="middle">Aug</text>
<text x="992.62" y="309.50" font-size="17.80" textLength="95.62" lengthAdjust="spacingAndGlyphs" text-anchor="middle">KGE=0.687</text>
<text x="992.42" y="502.60" font-size="15.58" textLength="67.76" lengthAdjust="spacingAndGlyphs" text-anchor="middle">Observed</text>
<text x="895.36" y="521.30" font-size="15.58" textLength="70.32" lengthAdjust="spacingAndGlyphs">(MJ mm h</text><text x="986.69" y="521.30" font-size="15.58" textLength="17.03" lengthAdjust="spacingAndGlyphs">ha</text><text x="1024.32" y="521.30" font-size="15.58" textLength="44.88" lengthAdjust="spacingAndGlyphs">month</text><text x="1085.22" y="521.30" font-size="15.58" textLength="4.66" lengthAdjust="spacingAndGlyphs">)</text><text x="967.03" y="515.30" font-size="10.68" textLength="7.28" lengthAdjust="spacingAndGlyphs">−</text><text x="974.91" y="515.40" font-size="10.68" textLength="6.10" lengthAdjust="spacingAndGlyphs">1</text><text x="1004.83" y="515.30" font-size="10.68" textLength="7.28" lengthAdjust="spacingAndGlyphs">−</text><text x="1012.71" y="515.40" font-size="10.68" textLength="6.10" lengthAdjust="spacingAndGlyphs">1</text><text x="1070.43" y="515.30" font-size="10.68" textLength="7.28" lengthAdjust="spacingAndGlyphs">−</text><text x="1078.31" y="515.40" font-size="10.68" textLength="6.10" lengthAdjust="spacingAndGlyphs">1</text>
<g transform="translate(848.80,387.70) rotate(-90)">
<text x="-0.75" y="-17.90" font-size="15.58" textLength="72.00" lengthAdjust="spacingAndGlyphs" text-anchor="middle">Estimated</text>
<text x="-97.27" y="0.00" font-size="15.58" textLength="70.32" lengthAdjust="spacingAndGlyphs">(MJ mm h</text><text x="-5.93" y="0.00" font-size="15.58" textLength="17.03" lengthAdjust="spacingAndGlyphs">ha</text><text x="31.70" y="0.00" font-size="15.58" textLength="44.88" lengthAdjust="spacingAndGlyphs">month</text><text x="92.60" y="0.00" font-size="15.58" textLength="4.66" lengthAdjust="spacingAndGlyphs">)</text><text x="-25.60" y="-6.00" font-size="10.68" textLength="7.28" lengthAdjust="spacingAndGlyphs">−</text><text x="-17.72" y="-5.90" font-size="10.68" textLength="6.10" lengthAdjust="spacingAndGlyphs">1</text><text x="12.20" y="-6.00" font-size="10.68" textLength="7.28" lengthAdjust="spacingAndGlyphs">−</text><text x="20.08" y="-5.90" font-size="10.68" textLength="6.10" lengthAdjust="spacingAndGlyphs">1</text><text x="77.80" y="-6.00" font-size="10.68" textLength="7.28" lengthAdjust="spacingAndGlyphs">−</text><text x="85.68" y="-5.90" font-size="10.68" textLength="6.10" lengthAdjust="spacingAndGlyphs">1</text>
</g>
<clipPath id="c8"><rect x="113.0" y="585.8" width="150.65" height="131.0"/></clipPath>
<g class="sc" clip-path="url(#c8)"><g color="#440154"><circle cx="185.2" cy="713.5"/><circle cx="166.8" cy="705.6"/><circle cx="162.4" cy="694.2"/><circle cx="162.2" cy="703.7"/><circle cx="161.7" cy="700.6"/><circle cx="145.7" cy="676.6"/><circle cx="157.6" cy="695.2"/><circle cx="157.1" cy="709.4"/><circle cx="157.7" cy="704.5"/><circle cx="155.0" cy="690.5"/><circle cx="155.6" cy="700.6"/><circle cx="149.6" cy="686.2"/><circle cx="152.9" cy="711.2"/><circle cx="152.7" cy="692.9"/><circle cx="153.0" cy="695.5"/><circle cx="152.5" cy="708.2"/><circle cx="143.5" cy="681.6"/><circle cx="152.1" cy="700.3"/><circle cx="151.7" cy="703.3"/><circle cx="148.6" cy="691.4"/><circle cx="146.8" cy="711.9"/><circle cx="147.8" cy="695.5"/><circle cx="143.6" cy="688.1"/><circle cx="148.1" cy="706.7"/><circle cx="148.3" cy="702.9"/><circle cx="145.8" cy="711.7"/><circle cx="137.3" cy="684.0"/><circle cx="147.6" cy="700.6"/><circle cx="145.8" cy="710.6"/><circle cx="141.5" cy="688.2"/><circle cx="145.5" cy="695.1"/><circle cx="143.9" cy="693.0"/><circle cx="144.5" cy="708.7"/><circle cx="133.5" cy="684.9"/><circle cx="141.3" cy="691.1"/><circle cx="135.3" cy="686.8"/><circle cx="140.7" cy="711.9"/><circle cx="143.5" cy="705.1"/><circle cx="143.3" cy="701.0"/><circle cx="139.7" cy="711.8"/><circle cx="132.2" cy="687.3"/><circle cx="141.4" cy="708.2"/><circle cx="140.1" cy="694.7"/><circle cx="137.2" cy="692.3"/><circle cx="140.6" cy="705.2"/><circle cx="140.1" cy="699.0"/><circle cx="125.8" cy="689.1"/><circle cx="132.2" cy="713.0"/><circle cx="131.8" cy="691.5"/><circle cx="135.9" cy="695.8"/><circle cx="137.4" cy="704.9"/><circle cx="122.2" cy="692.5"/><circle cx="125.9" cy="691.8"/><circle cx="135.7" cy="707.1"/><circle cx="129.2" cy="692.2"/><circle cx="117.9" cy="707.6"/><circle cx="135.9" cy="698.8"/><circle cx="119.2" cy="697.5"/></g><g color="#460a5d"><circle cx="121.2" cy="695.6"/><circle cx="133.0" cy="708.2"/><circle cx="118.8" cy="703.4"/><circle cx="117.8" cy="708.9"/><circle cx="131.5" cy="695.5"/><circle cx="119.3" cy="702.1"/><circle cx="119.5" cy="708.4"/><circle cx="120.9" cy="707.0"/><circle cx="123.5" cy="695.7"/><circle cx="118.3" cy="709.0"/><circle cx="115.5" cy="710.4"/></g><g color="#471365"><circle cx="128.9" cy="708.7"/><circle cx="121.2" cy="704.4"/><circle cx="124.1" cy="707.8"/><circle cx="127.1" cy="696.6"/></g><g color="#481c6e"><circle cx="132.0" cy="703.1"/><circle cx="131.4" cy="700.5"/><circle cx="126.6" cy="711.3"/><circle cx="113.1" cy="713.0"/></g><g color="#472d7b"><circle cx="118.3" cy="710.5"/><circle cx="128.2" cy="704.2"/><circle cx="125.2" cy="700.3"/><circle cx="125.1" cy="703.4"/><circle cx="128.5" cy="700.3"/><circle cx="118.1" cy="717.8"/></g><g color="#443b84"><circle cx="120.9" cy="710.4"/></g><g color="#38598c"><circle cx="120.8" cy="715.9"/><circle cx="115.6" cy="713.4"/></g><g color="#355f8d"><circle cx="123.2" cy="712.9"/></g><g color="#31668e"><circle cx="115.4" cy="716.0"/></g><g color="#2f6c8e"><circle cx="121.8" cy="711.9"/></g><g color="#277e8e"><circle cx="117.6" cy="715.7"/></g><g color="#21918c"><circle cx="120.6" cy="713.4"/><circle cx="118.2" cy="713.3"/></g></g>
<path d="M113.00 585.80V716.80M113.00 716.80H263.65M173.26 585.80V716.80M113.00 664.40H263.65M233.52 585.80V716.80M113.00 612.00H263.65" stroke="#b0b0b0" stroke-width="1.6" fill="none"/>
<path d="M113.00 716.80L263.65 585.80" stroke="#000" stroke-width="3.5" stroke-dasharray="13 6.5" fill="none" clip-path="url(#c8)"/>
<rect x="113.0" y="585.8" width="150.65" height="131.0" fill="none" stroke="#000" stroke-width="1.6"/>
<path d="M113.00 716.80v7M113.00 716.80h-7M173.26 716.80v7M113.00 664.40h-7M233.52 716.80v7M113.00 612.00h-7" stroke="#000" stroke-width="1.6" fill="none"/>
<text x="113.00" y="743.80" font-size="17.80" textLength="10.18" lengthAdjust="spacingAndGlyphs" text-anchor="middle">0</text>
<text x="98.50" y="722.65" font-size="17.80" textLength="10.18" lengthAdjust="spacingAndGlyphs" text-anchor="end">0</text>
<text x="173.26" y="743.80" font-size="17.80" textLength="40.72" lengthAdjust="spacingAndGlyphs" text-anchor="middle">2000</text>
<text x="98.50" y="670.25" font-size="17.80" textLength="40.72" lengthAdjust="spacingAndGlyphs" text-anchor="end">2000</text>
<text x="233.52" y="743.80" font-size="17.80" textLength="40.72" lengthAdjust="spacingAndGlyphs" text-anchor="middle">4000</text>
<text x="98.50" y="617.85" font-size="17.80" textLength="40.72" lengthAdjust="spacingAndGlyphs" text-anchor="end">4000</text>
<text x="118.60" y="604.80" font-size="17.80" textLength="16.00" lengthAdjust="spacingAndGlyphs">(i)</text>
<text x="188.32" y="554.80" font-size="17.80" textLength="30.67" lengthAdjust="spacingAndGlyphs" text-anchor="middle">Sep</text>
<text x="188.32" y="573.10" font-size="17.80" textLength="95.62" lengthAdjust="spacingAndGlyphs" text-anchor="middle">KGE=0.761</text>
<text x="188.12" y="766.20" font-size="15.58" textLength="67.76" lengthAdjust="spacingAndGlyphs" text-anchor="middle">Observed</text>
<text x="91.06" y="784.90" font-size="15.58" textLength="70.32" lengthAdjust="spacingAndGlyphs">(MJ mm h</text><text x="182.39" y="784.90" font-size="15.58" textLength="17.03" lengthAdjust="spacingAndGlyphs">ha</text><text x="220.02" y="784.90" font-size="15.58" textLength="44.88" lengthAdjust="spacingAndGlyphs">month</text><text x="280.92" y="784.90" font-size="15.58" textLength="4.66" lengthAdjust="spacingAndGlyphs">)</text><text x="162.73" y="778.90" font-size="10.68" textLength="7.28" lengthAdjust="spacingAndGlyphs">−</text><text x="170.61" y="779.00" font-size="10.68" textLength="6.10" lengthAdjust="spacingAndGlyphs">1</text><text x="200.53" y="778.90" font-size="10.68" textLength="7.28" lengthAdjust="spacingAndGlyphs">−</text><text x="208.41" y="779.00" font-size="10.68" textLength="6.10" lengthAdjust="spacingAndGlyphs">1</text><text x="266.13" y="778.90" font-size="10.68" textLength="7.28" lengthAdjust="spacingAndGlyphs">−</text><text x="274.01" y="779.00" font-size="10.68" textLength="6.10" lengthAdjust="spacingAndGlyphs">1</text>
<g transform="translate(44.50,651.30) rotate(-90)">
<text x="-0.75" y="-17.90" font-size="15.58" textLength="72.00" lengthAdjust="spacingAndGlyphs" text-anchor="middle">Estimated</text>
<text x="-97.27" y="0.00" font-size="15.58" textLength="70.32" lengthAdjust="spacingAndGlyphs">(MJ mm h</text><text x="-5.93" y="0.00" font-size="15.58" textLength="17.03" lengthAdjust="spacingAndGlyphs">ha</text><text x="31.70" y="0.00" font-size="15.58" textLength="44.88" lengthAdjust="spacingAndGlyphs">month</text><text x="92.60" y="0.00" font-size="15.58" textLength="4.66" lengthAdjust="spacingAndGlyphs">)</text><text x="-25.60" y="-6.00" font-size="10.68" textLength="7.28" lengthAdjust="spacingAndGlyphs">−</text><text x="-17.72" y="-5.90" font-size="10.68" textLength="6.10" lengthAdjust="spacingAndGlyphs">1</text><text x="12.20" y="-6.00" font-size="10.68" textLength="7.28" lengthAdjust="spacingAndGlyphs">−</text><text x="20.08" y="-5.90" font-size="10.68" textLength="6.10" lengthAdjust="spacingAndGlyphs">1</text><text x="77.80" y="-6.00" font-size="10.68" textLength="7.28" lengthAdjust="spacingAndGlyphs">−</text><text x="85.68" y="-5.90" font-size="10.68" textLength="6.10" lengthAdjust="spacingAndGlyphs">1</text>
</g>
<clipPath id="c9"><rect x="381.1" y="585.8" width="150.65" height="131.0"/></clipPath>
<g class="sc" clip-path="url(#c9)"><g color="#440154"><circle cx="436.5" cy="699.4"/><circle cx="446.2" cy="688.0"/><circle cx="417.2" cy="714.3"/><circle cx="422.5" cy="706.4"/><circle cx="441.0" cy="687.5"/><circle cx="416.3" cy="711.6"/><circle cx="432.4" cy="696.6"/><circle cx="435.3" cy="692.7"/><circle cx="441.0" cy="683.9"/></g><g color="#460a5d"><circle cx="436.4" cy="689.6"/><circle cx="418.8" cy="706.2"/><circle cx="441.8" cy="678.4"/><circle cx="431.8" cy="692.4"/><circle cx="435.5" cy="687.4"/><circle cx="427.7" cy="696.8"/><circle cx="409.5" cy="713.1"/><circle cx="437.4" cy="684.0"/><circle cx="420.5" cy="703.2"/><circle cx="427.1" cy="695.2"/><circle cx="410.6" cy="710.9"/><circle cx="388.4" cy="687.6"/></g><g color="#471365"><circle cx="431.7" cy="687.6"/><circle cx="427.8" cy="692.7"/><circle cx="425.0" cy="696.1"/><circle cx="413.4" cy="707.8"/><circle cx="432.6" cy="684.1"/><circle cx="433.8" cy="681.2"/><circle cx="391.6" cy="686.3"/><circle cx="433.0" cy="679.7"/><circle cx="385.9" cy="691.8"/><circle cx="428.8" cy="688.7"/><circle cx="398.8" cy="681.9"/><circle cx="391.1" cy="687.8"/></g><g color="#481c6e"><circle cx="404.1" cy="712.5"/><circle cx="424.0" cy="692.3"/><circle cx="428.3" cy="679.6"/><circle cx="405.6" cy="679.6"/><circle cx="427.3" cy="684.3"/><circle cx="421.3" cy="695.5"/><circle cx="389.5" cy="691.0"/></g><g color="#482475"><circle cx="422.7" cy="677.0"/><circle cx="410.8" cy="678.4"/><circle cx="424.4" cy="688.7"/><circle cx="409.3" cy="707.2"/><circle cx="408.6" cy="680.1"/></g><g color="#472d7b"><circle cx="417.3" cy="678.3"/><circle cx="424.5" cy="684.4"/><circle cx="416.2" cy="679.0"/><circle cx="420.4" cy="693.4"/><circle cx="385.8" cy="698.1"/><circle cx="397.6" cy="687.0"/><circle cx="409.5" cy="681.1"/></g><g color="#463480"><circle cx="420.7" cy="681.4"/><circle cx="400.7" cy="685.1"/><circle cx="403.1" cy="683.8"/><circle cx="407.3" cy="682.0"/><circle cx="411.3" cy="704.0"/><circle cx="381.8" cy="713.6"/><circle cx="415.2" cy="699.6"/><circle cx="421.2" cy="687.4"/><circle cx="416.9" cy="696.9"/></g><g color="#443b84"><circle cx="419.1" cy="683.3"/><circle cx="392.4" cy="692.7"/></g><g color="#414487"><circle cx="405.6" cy="707.4"/><circle cx="399.6" cy="687.8"/><circle cx="384.3" cy="711.9"/><circle cx="386.1" cy="703.4"/><circle cx="415.7" cy="684.0"/><circle cx="408.1" cy="705.0"/></g><g color="#3e4a89"><circle cx="396.8" cy="711.6"/><circle cx="411.9" cy="701.0"/><circle cx="386.8" cy="708.8"/><circle cx="417.2" cy="688.2"/><circle cx="411.2" cy="684.5"/><circle cx="407.4" cy="685.2"/></g><g color="#3b528b"><circle cx="416.1" cy="691.6"/><circle cx="389.3" cy="700.2"/></g><g color="#38598c"><circle cx="387.8" cy="706.1"/><circle cx="388.1" cy="704.4"/><circle cx="395.8" cy="693.2"/><circle cx="389.3" cy="711.1"/><circle cx="392.8" cy="696.3"/><circle cx="391.2" cy="711.3"/></g><g color="#355f8d"><circle cx="387.3" cy="711.7"/><circle cx="409.0" cy="687.5"/></g><g color="#31668e"><circle cx="386.1" cy="712.5"/><circle cx="412.1" cy="697.3"/><circle cx="413.3" cy="692.7"/></g><g color="#2f6c8e"><circle cx="393.1" cy="709.0"/><circle cx="405.2" cy="689.3"/><circle cx="411.2" cy="689.4"/><circle cx="395.1" cy="695.9"/><circle cx="391.6" cy="713.6"/></g><g color="#2c728e"><circle cx="400.7" cy="691.8"/><circle cx="400.4" cy="707.0"/><circle cx="395.2" cy="708.3"/></g><g color="#2a788e"><circle cx="384.7" cy="714.0"/><circle cx="404.6" cy="704.3"/></g><g color="#277e8e"><circle cx="393.2" cy="700.1"/></g><g color="#25848e"><circle cx="407.8" cy="691.5"/></g><g color="#21918c"><circle cx="403.5" cy="693.0"/></g><g color="#238a8d"><circle cx="393.4" cy="703.5"/></g><g color="#21918c"><circle cx="386.9" cy="713.6"/></g><g color="#238a8d"><circle cx="400.7" cy="705.3"/><circle cx="409.6" cy="695.3"/></g><g color="#22a884"><circle cx="389.1" cy="714.0"/></g><g color="#25848e"><circle cx="408.4" cy="699.0"/></g><g color="#1fa287"><circle cx="396.8" cy="703.1"/><circle cx="399.9" cy="697.0"/></g><g color="#21918c"><circle cx="384.2" cy="716.3"/></g><g color="#28ae80"><circle cx="404.1" cy="697.5"/></g><g color="#1f968b"><circle cx="396.1" cy="698.9"/></g><g color="#2fb47c"><circle cx="401.4" cy="700.6"/><circle cx="386.9" cy="719.3"/><circle cx="403.2" cy="699.8"/></g><g color="#bddf26"><circle cx="389.9" cy="716.8"/></g><g color="#fde725"><circle cx="387.1" cy="716.9"/></g></g>
<path d="M381.10 585.80V716.80M381.10 716.80H531.75M441.36 585.80V716.80M381.10 664.40H531.75M501.62 585.80V716.80M381.10 612.00H531.75" stroke="#b0b0b0" stroke-width="1.6" fill="none"/>
<path d="M381.10 716.80L531.75 585.80" stroke="#000" stroke-width="3.5" stroke-dasharray="13 6.5" fill="none" clip-path="url(#c9)"/>
<rect x="381.1" y="585.8" width="150.65" height="131.0" fill="none" stroke="#000" stroke-width="1.6"/>
<path d="M381.10 716.80v7M381.10 716.80h-7M441.36 716.80v7M381.10 664.40h-7M501.62 716.80v7M381.10 612.00h-7" stroke="#000" stroke-width="1.6" fill="none"/>
<text x="381.10" y="743.80" font-size="17.80" textLength="10.18" lengthAdjust="spacingAndGlyphs" text-anchor="middle">0</text>
<text x="366.60" y="722.65" font-size="17.80" textLength="10.18" lengthAdjust="spacingAndGlyphs" text-anchor="end">0</text>
<text x="441.36" y="743.80" font-size="17.80" textLength="40.72" lengthAdjust="spacingAndGlyphs" text-anchor="middle">2000</text>
<text x="366.60" y="670.25" font-size="17.80" textLength="40.72" lengthAdjust="spacingAndGlyphs" text-anchor="end">2000</text>
<text x="501.62" y="743.80" font-size="17.80" textLength="40.72" lengthAdjust="spacingAndGlyphs" text-anchor="middle">4000</text>
<text x="366.60" y="617.85" font-size="17.80" textLength="40.72" lengthAdjust="spacingAndGlyphs" text-anchor="end">4000</text>
<text x="386.70" y="604.80" font-size="17.80" textLength="15.85" lengthAdjust="spacingAndGlyphs">(j)</text>
<text x="456.43" y="554.80" font-size="17.80" textLength="28.51" lengthAdjust="spacingAndGlyphs" text-anchor="middle">Oct</text>
<text x="456.43" y="573.10" font-size="17.80" textLength="95.62" lengthAdjust="spacingAndGlyphs" text-anchor="middle">KGE=0.848</text>
<text x="456.23" y="766.20" font-size="15.58" textLength="67.76" lengthAdjust="spacingAndGlyphs" text-anchor="middle">Observed</text>
<text x="359.16" y="784.90" font-size="15.58" textLength="70.32" lengthAdjust="spacingAndGlyphs">(MJ mm h</text><text x="450.49" y="784.90" font-size="15.58" textLength="17.03" lengthAdjust="spacingAndGlyphs">ha</text><text x="488.12" y="784.90" font-size="15.58" textLength="44.88" lengthAdjust="spacingAndGlyphs">month</text><text x="549.02" y="784.90" font-size="15.58" textLength="4.66" lengthAdjust="spacingAndGlyphs">)</text><text x="430.83" y="778.90" font-size="10.68" textLength="7.28" lengthAdjust="spacingAndGlyphs">−</text><text x="438.71" y="779.00" font-size="10.68" textLength="6.10" lengthAdjust="spacingAndGlyphs">1</text><text x="468.63" y="778.90" font-size="10.68" textLength="7.28" lengthAdjust="spacingAndGlyphs">−</text><text x="476.51" y="779.00" font-size="10.68" textLength="6.10" lengthAdjust="spacingAndGlyphs">1</text><text x="534.23" y="778.90" font-size="10.68" textLength="7.28" lengthAdjust="spacingAndGlyphs">−</text><text x="542.11" y="779.00" font-size="10.68" textLength="6.10" lengthAdjust="spacingAndGlyphs">1</text>
<g transform="translate(312.60,651.30) rotate(-90)">
<text x="-0.75" y="-17.90" font-size="15.58" textLength="72.00" lengthAdjust="spacingAndGlyphs" text-anchor="middle">Estimated</text>
<text x="-97.27" y="0.00" font-size="15.58" textLength="70.32" lengthAdjust="spacingAndGlyphs">(MJ mm h</text><text x="-5.93" y="0.00" font-size="15.58" textLength="17.03" lengthAdjust="spacingAndGlyphs">ha</text><text x="31.70" y="0.00" font-size="15.58" textLength="44.88" lengthAdjust="spacingAndGlyphs">month</text><text x="92.60" y="0.00" font-size="15.58" textLength="4.66" lengthAdjust="spacingAndGlyphs">)</text><text x="-25.60" y="-6.00" font-size="10.68" textLength="7.28" lengthAdjust="spacingAndGlyphs">−</text><text x="-17.72" y="-5.90" font-size="10.68" textLength="6.10" lengthAdjust="spacingAndGlyphs">1</text><text x="12.20" y="-6.00" font-size="10.68" textLength="7.28" lengthAdjust="spacingAndGlyphs">−</text><text x="20.08" y="-5.90" font-size="10.68" textLength="6.10" lengthAdjust="spacingAndGlyphs">1</text><text x="77.80" y="-6.00" font-size="10.68" textLength="7.28" lengthAdjust="spacingAndGlyphs">−</text><text x="85.68" y="-5.90" font-size="10.68" textLength="6.10" lengthAdjust="spacingAndGlyphs">1</text>
</g>
<clipPath id="c10"><rect x="649.2" y="585.8" width="150.65" height="131.0"/></clipPath>
<g class="sc" clip-path="url(#c10)"><g color="#440154"><circle cx="724.7" cy="683.6"/><circle cx="713.3" cy="691.5"/><circle cx="712.5" cy="688.9"/><circle cx="659.8" cy="679.9"/><circle cx="665.0" cy="675.5"/><circle cx="716.9" cy="684.0"/><circle cx="719.8" cy="681.2"/><circle cx="717.0" cy="683.5"/><circle cx="703.6" cy="693.3"/><circle cx="664.4" cy="679.6"/><circle cx="669.8" cy="675.1"/><circle cx="658.5" cy="685.0"/><circle cx="653.5" cy="690.1"/><circle cx="706.5" cy="689.2"/><circle cx="657.3" cy="687.1"/><circle cx="686.1" cy="706.4"/><circle cx="717.0" cy="677.9"/><circle cx="712.3" cy="682.5"/><circle cx="702.0" cy="692.1"/><circle cx="675.7" cy="672.9"/><circle cx="713.2" cy="680.4"/><circle cx="709.0" cy="684.0"/><circle cx="656.7" cy="690.3"/><circle cx="672.6" cy="676.5"/><circle cx="659.6" cy="688.1"/><circle cx="669.3" cy="679.7"/><circle cx="714.6" cy="677.3"/><circle cx="664.2" cy="684.7"/><circle cx="655.0" cy="694.1"/></g><g color="#460a5d"><circle cx="703.2" cy="687.2"/><circle cx="673.8" cy="711.1"/><circle cx="673.3" cy="678.7"/><circle cx="668.4" cy="683.1"/><circle cx="677.2" cy="676.0"/><circle cx="676.8" cy="708.2"/><circle cx="683.2" cy="671.4"/><circle cx="701.7" cy="687.0"/><circle cx="681.7" cy="704.3"/><circle cx="689.0" cy="698.3"/><circle cx="705.7" cy="682.4"/><circle cx="687.3" cy="699.6"/><circle cx="707.1" cy="680.5"/><circle cx="713.5" cy="672.7"/><circle cx="687.0" cy="699.3"/><circle cx="665.1" cy="688.0"/></g><g color="#471365"><circle cx="661.3" cy="691.7"/><circle cx="653.8" cy="700.1"/><circle cx="675.8" cy="706.8"/><circle cx="672.9" cy="708.6"/><circle cx="708.8" cy="675.9"/><circle cx="681.2" cy="675.7"/><circle cx="692.7" cy="692.4"/><circle cx="689.8" cy="694.9"/></g><g color="#481c6e"><circle cx="704.1" cy="680.5"/><circle cx="689.7" cy="670.4"/><circle cx="668.6" cy="710.5"/><circle cx="677.6" cy="679.3"/><circle cx="697.3" cy="686.8"/><circle cx="668.3" cy="687.6"/></g><g color="#482475"><circle cx="708.5" cy="672.2"/><circle cx="684.0" cy="675.3"/><circle cx="705.6" cy="676.2"/><circle cx="707.4" cy="673.0"/><circle cx="665.1" cy="691.6"/><circle cx="666.4" cy="711.2"/><circle cx="660.4" cy="695.7"/><circle cx="676.4" cy="703.7"/><circle cx="699.3" cy="683.5"/></g><g color="#472d7b"><circle cx="672.6" cy="684.5"/><circle cx="680.6" cy="678.6"/><circle cx="671.8" cy="706.4"/><circle cx="668.0" cy="708.7"/><circle cx="680.3" cy="700.2"/><circle cx="654.1" cy="706.8"/></g><g color="#463480"><circle cx="697.1" cy="669.1"/><circle cx="705.1" cy="671.8"/></g><g color="#443b84"><circle cx="695.8" cy="670.5"/><circle cx="685.5" cy="695.2"/><circle cx="689.1" cy="674.3"/><circle cx="656.7" cy="704.2"/><circle cx="700.4" cy="669.7"/><circle cx="699.2" cy="680.6"/></g><g color="#414487"><circle cx="654.8" cy="708.4"/><circle cx="649.6" cy="713.1"/><circle cx="692.8" cy="687.3"/><circle cx="696.3" cy="683.4"/><circle cx="688.4" cy="691.6"/></g><g color="#3e4a89"><circle cx="652.9" cy="710.0"/><circle cx="659.6" cy="699.9"/><circle cx="677.1" cy="683.5"/></g><g color="#3b528b"><circle cx="684.6" cy="678.6"/><circle cx="697.6" cy="672.5"/><circle cx="665.3" cy="707.3"/><circle cx="668.6" cy="692.1"/><circle cx="700.0" cy="674.4"/><circle cx="672.5" cy="702.7"/><circle cx="664.6" cy="696.2"/></g><g color="#38598c"><circle cx="663.9" cy="711.9"/></g><g color="#355f8d"><circle cx="672.3" cy="688.6"/><circle cx="655.1" cy="718.0"/><circle cx="697.3" cy="678.6"/><circle cx="660.8" cy="708.4"/><circle cx="676.3" cy="699.5"/><circle cx="697.5" cy="676.4"/><circle cx="667.2" cy="694.8"/><circle cx="681.4" cy="695.9"/></g><g color="#31668e"><circle cx="667.6" cy="704.6"/><circle cx="680.4" cy="683.0"/><circle cx="660.9" cy="704.6"/><circle cx="693.1" cy="676.4"/></g><g color="#2f6c8e"><circle cx="689.1" cy="688.1"/><circle cx="664.1" cy="698.6"/><circle cx="653.3" cy="711.2"/></g><g color="#2c728e"><circle cx="684.1" cy="692.7"/><circle cx="688.2" cy="679.1"/></g><g color="#2a788e"><circle cx="693.3" cy="680.6"/><circle cx="663.3" cy="704.1"/></g><g color="#277e8e"><circle cx="655.3" cy="710.6"/></g><g color="#25848e"><circle cx="691.2" cy="682.4"/><circle cx="668.5" cy="700.1"/><circle cx="672.9" cy="698.6"/><circle cx="672.4" cy="692.0"/></g><g color="#1f968b"><circle cx="661.6" cy="711.8"/></g><g color="#21918c"><circle cx="658.0" cy="710.6"/></g><g color="#238a8d"><circle cx="688.9" cy="683.8"/><circle cx="652.4" cy="713.2"/></g><g color="#1f968b"><circle cx="684.6" cy="684.1"/><circle cx="677.3" cy="687.3"/></g><g color="#1fa287"><circle cx="657.9" cy="715.4"/></g><g color="#1f968b"><circle cx="681.7" cy="692.1"/><circle cx="673.1" cy="694.3"/></g><g color="#1e9c89"><circle cx="660.8" cy="711.4"/></g><g color="#2fb47c"><circle cx="676.3" cy="692.1"/></g><g color="#1f968b"><circle cx="675.2" cy="695.7"/></g><g color="#1e9c89"><circle cx="684.2" cy="688.2"/></g><g color="#38b977"><circle cx="660.2" cy="713.4"/></g><g color="#28ae80"><circle cx="681.5" cy="688.0"/></g><g color="#1e9c89"><circle cx="652.7" cy="715.6"/></g><g color="#2fb47c"><circle cx="655.0" cy="715.8"/></g><g color="#7ad151"><circle cx="657.3" cy="713.4"/></g><g color="#6ccd5a"><circle cx="655.3" cy="713.2"/></g></g>
<path d="M649.20 585.80V716.80M649.20 716.80H799.85M709.46 585.80V716.80M649.20 664.40H799.85M769.72 585.80V716.80M649.20 612.00H799.85" stroke="#b0b0b0" stroke-width="1.6" fill="none"/>
<path d="M649.20 716.80L799.85 585.80" stroke="#000" stroke-width="3.5" stroke-dasharray="13 6.5" fill="none" clip-path="url(#c10)"/>
<rect x="649.2" y="585.8" width="150.65" height="131.0" fill="none" stroke="#000" stroke-width="1.6"/>
<path d="M649.20 716.80v7M649.20 716.80h-7M709.46 716.80v7M649.20 664.40h-7M769.72 716.80v7M649.20 612.00h-7" stroke="#000" stroke-width="1.6" fill="none"/>
<text x="649.20" y="743.80" font-size="17.80" textLength="10.18" lengthAdjust="spacingAndGlyphs" text-anchor="middle">0</text>
<text x="634.70" y="722.65" font-size="17.80" textLength="10.18" lengthAdjust="spacingAndGlyphs" text-anchor="end">0</text>
<text x="709.46" y="743.80" font-size="17.80" textLength="40.72" lengthAdjust="spacingAndGlyphs" text-anchor="middle">2000</text>
<text x="634.70" y="670.25" font-size="17.80" textLength="40.72" lengthAdjust="spacingAndGlyphs" text-anchor="end">2000</text>
<text x="769.72" y="743.80" font-size="17.80" textLength="40.72" lengthAdjust="spacingAndGlyphs" text-anchor="middle">4000</text>
<text x="634.70" y="617.85" font-size="17.80" textLength="40.72" lengthAdjust="spacingAndGlyphs" text-anchor="end">4000</text>
<text x="654.80" y="604.80" font-size="17.80" textLength="20.58" lengthAdjust="spacingAndGlyphs">(k)</text>
<text x="724.53" y="554.80" font-size="17.80" textLength="32.67" lengthAdjust="spacingAndGlyphs" text-anchor="middle">Nov</text>
<text x="724.53" y="573.10" font-size="17.80" textLength="95.62" lengthAdjust="spacingAndGlyphs" text-anchor="middle">KGE=0.858</text>
<text x="724.33" y="766.20" font-size="15.58" textLength="67.76" lengthAdjust="spacingAndGlyphs" text-anchor="middle">Observed</text>
<text x="627.26" y="784.90" font-size="15.58" textLength="70.32" lengthAdjust="spacingAndGlyphs">(MJ mm h</text><text x="718.59" y="784.90" font-size="15.58" textLength="17.03" lengthAdjust="spacingAndGlyphs">ha</text><text x="756.22" y="784.90" font-size="15.58" textLength="44.88" lengthAdjust="spacingAndGlyphs">month</text><text x="817.12" y="784.90" font-size="15.58" textLength="4.66" lengthAdjust="spacingAndGlyphs">)</text><text x="698.93" y="778.90" font-size="10.68" textLength="7.28" lengthAdjust="spacingAndGlyphs">−</text><text x="706.81" y="779.00" font-size="10.68" textLength="6.10" lengthAdjust="spacingAndGlyphs">1</text><text x="736.73" y="778.90" font-size="10.68" textLength="7.28" lengthAdjust="spacingAndGlyphs">−</text><text x="744.61" y="779.00" font-size="10.68" textLength="6.10" lengthAdjust="spacingAndGlyphs">1</text><text x="802.33" y="778.90" font-size="10.68" textLength="7.28" lengthAdjust="spacingAndGlyphs">−</text><text x="810.21" y="779.00" font-size="10.68" textLength="6.10" lengthAdjust="spacingAndGlyphs">1</text>
<g transform="translate(580.70,651.30) rotate(-90)">
<text x="-0.75" y="-17.90" font-size="15.58" textLength="72.00" lengthAdjust="spacingAndGlyphs" text-anchor="middle">Estimated</text>
<text x="-97.27" y="0.00" font-size="15.58" textLength="70.32" lengthAdjust="spacingAndGlyphs">(MJ mm h</text><text x="-5.93" y="0.00" font-size="15.58" textLength="17.03" lengthAdjust="spacingAndGlyphs">ha</text><text x="31.70" y="0.00" font-size="15.58" textLength="44.88" lengthAdjust="spacingAndGlyphs">month</text><text x="92.60" y="0.00" font-size="15.58" textLength="4.66" lengthAdjust="spacingAndGlyphs">)</text><text x="-25.60" y="-6.00" font-size="10.68" textLength="7.28" lengthAdjust="spacingAndGlyphs">−</text><text x="-17.72" y="-5.90" font-size="10.68" textLength="6.10" lengthAdjust="spacingAndGlyphs">1</text><text x="12.20" y="-6.00" font-size="10.68" textLength="7.28" lengthAdjust="spacingAndGlyphs">−</text><text x="20.08" y="-5.90" font-size="10.68" textLength="6.10" lengthAdjust="spacingAndGlyphs">1</text><text x="77.80" y="-6.00" font-size="10.68" textLength="7.28" lengthAdjust="spacingAndGlyphs">−</text><text x="85.68" y="-5.90" font-size="10.68" textLength="6.10" lengthAdjust="spacingAndGlyphs">1</text>
</g>
<clipPath id="c11"><rect x="917.3" y="585.8" width="150.65" height="131.0"/></clipPath>
<g class="sc" clip-path="url(#c11)"><g color="#440154"><circle cx="1007.6" cy="673.1"/><circle cx="937.4" cy="652.9"/><circle cx="922.5" cy="666.1"/><circle cx="921.5" cy="671.9"/><circle cx="925.6" cy="668.1"/><circle cx="978.7" cy="689.8"/><circle cx="940.8" cy="658.3"/><circle cx="935.8" cy="662.8"/><circle cx="922.4" cy="675.8"/><circle cx="930.8" cy="667.8"/><circle cx="922.7" cy="676.6"/><circle cx="935.1" cy="664.7"/><circle cx="926.2" cy="673.9"/></g><g color="#460a5d"><circle cx="945.3" cy="658.1"/><circle cx="999.5" cy="662.0"/><circle cx="1001.1" cy="658.0"/><circle cx="984.3" cy="678.8"/><circle cx="994.5" cy="666.7"/><circle cx="1001.7" cy="656.1"/><circle cx="941.7" cy="662.8"/><circle cx="929.3" cy="674.6"/><circle cx="962.9" cy="696.8"/><circle cx="986.5" cy="674.4"/><circle cx="995.0" cy="663.5"/><circle cx="951.1" cy="656.6"/><circle cx="934.4" cy="670.9"/><circle cx="922.1" cy="683.8"/><circle cx="977.5" cy="682.8"/><circle cx="922.2" cy="684.6"/><circle cx="988.6" cy="669.7"/><circle cx="972.7" cy="686.4"/><circle cx="982.3" cy="676.6"/><circle cx="998.1" cy="654.1"/><circle cx="937.2" cy="670.2"/><circle cx="932.4" cy="675.0"/><circle cx="945.4" cy="663.3"/><circle cx="941.0" cy="667.3"/><circle cx="975.5" cy="682.1"/></g><g color="#471365"><circle cx="945.1" cy="706.1"/><circle cx="969.0" cy="687.8"/><circle cx="982.0" cy="674.6"/><circle cx="993.8" cy="658.1"/><circle cx="930.5" cy="678.4"/><circle cx="975.3" cy="681.5"/><circle cx="967.8" cy="688.4"/><circle cx="977.3" cy="678.7"/><circle cx="922.6" cy="688.4"/><circle cx="940.6" cy="669.6"/><circle cx="950.4" cy="701.3"/><circle cx="969.0" cy="686.1"/><circle cx="989.6" cy="662.1"/><circle cx="949.2" cy="702.0"/><circle cx="949.5" cy="662.5"/><circle cx="957.5" cy="656.7"/><circle cx="944.1" cy="667.2"/><circle cx="953.5" cy="698.6"/><circle cx="932.6" cy="678.0"/><circle cx="992.7" cy="652.0"/><circle cx="973.1" cy="681.1"/><circle cx="949.4" cy="701.0"/><circle cx="938.6" cy="708.4"/><circle cx="936.5" cy="710.5"/><circle cx="984.6" cy="667.0"/><circle cx="957.2" cy="694.8"/><circle cx="982.3" cy="669.8"/><circle cx="989.5" cy="657.9"/></g><g color="#481c6e"><circle cx="930.2" cy="682.2"/><circle cx="925.0" cy="688.1"/><circle cx="990.0" cy="654.6"/><circle cx="948.3" cy="665.7"/><circle cx="977.4" cy="674.4"/><circle cx="962.0" cy="689.8"/><circle cx="938.4" cy="674.9"/><circle cx="954.5" cy="661.5"/><circle cx="974.4" cy="677.2"/><circle cx="936.5" cy="677.0"/><circle cx="945.1" cy="702.3"/><circle cx="987.1" cy="650.4"/><circle cx="985.4" cy="661.5"/><circle cx="960.9" cy="657.9"/><circle cx="932.9" cy="681.3"/><circle cx="928.4" cy="686.3"/></g><g color="#482475"><circle cx="986.2" cy="653.5"/><circle cx="960.2" cy="658.8"/><circle cx="968.8" cy="681.6"/><circle cx="985.1" cy="658.5"/><circle cx="921.7" cy="695.3"/><circle cx="925.3" cy="691.2"/><circle cx="980.7" cy="665.8"/><circle cx="980.1" cy="651.6"/><circle cx="982.6" cy="662.0"/><circle cx="960.5" cy="688.5"/><circle cx="968.8" cy="655.0"/><circle cx="970.4" cy="678.4"/><circle cx="948.7" cy="697.9"/><circle cx="960.5" cy="660.0"/></g><g color="#472d7b"><circle cx="977.6" cy="669.1"/><circle cx="945.7" cy="671.1"/><circle cx="974.0" cy="653.7"/><circle cx="974.8" cy="653.5"/><circle cx="956.9" cy="662.7"/><circle cx="942.1" cy="702.0"/><circle cx="942.4" cy="674.3"/><circle cx="965.8" cy="682.2"/><circle cx="973.3" cy="673.5"/><circle cx="979.7" cy="654.8"/><circle cx="931.6" cy="713.0"/><circle cx="977.9" cy="666.3"/><circle cx="980.5" cy="657.2"/></g><g color="#463480"><circle cx="952.8" cy="666.6"/><circle cx="925.9" cy="693.9"/><circle cx="948.7" cy="670.3"/><circle cx="938.5" cy="702.9"/><circle cx="978.2" cy="661.7"/><circle cx="978.0" cy="658.7"/></g><g color="#443b84"><circle cx="973.5" cy="657.2"/><circle cx="928.8" cy="691.0"/><circle cx="974.3" cy="668.9"/><circle cx="964.2" cy="660.9"/><circle cx="945.6" cy="697.4"/><circle cx="944.3" cy="675.0"/><circle cx="933.7" cy="685.8"/></g><g color="#414487"><circle cx="957.9" cy="665.0"/><circle cx="942.1" cy="677.5"/><circle cx="954.0" cy="690.1"/><circle cx="961.7" cy="663.3"/></g><g color="#3e4a89"><circle cx="961.5" cy="682.7"/><circle cx="965.6" cy="678.1"/><circle cx="949.4" cy="693.4"/><circle cx="973.0" cy="666.5"/><circle cx="968.1" cy="674.5"/><circle cx="972.4" cy="662.2"/><circle cx="932.8" cy="708.6"/></g><g color="#3b528b"><circle cx="937.5" cy="683.2"/><circle cx="970.6" cy="669.8"/><circle cx="956.7" cy="686.5"/><circle cx="969.5" cy="662.4"/><circle cx="934.7" cy="702.7"/></g><g color="#38598c"><circle cx="961.0" cy="665.6"/><circle cx="926.3" cy="698.1"/><circle cx="970.4" cy="665.8"/><circle cx="952.9" cy="670.5"/><circle cx="941.2" cy="697.6"/></g><g color="#355f8d"><circle cx="937.0" cy="685.2"/><circle cx="950.5" cy="690.8"/><circle cx="932.5" cy="691.4"/><circle cx="930.6" cy="694.9"/></g><g color="#31668e"><circle cx="949.9" cy="673.3"/><circle cx="920.6" cy="711.7"/><circle cx="944.9" cy="694.4"/><circle cx="966.6" cy="666.7"/><circle cx="954.4" cy="686.4"/></g><g color="#2f6c8e"><circle cx="941.0" cy="681.8"/><circle cx="937.8" cy="697.8"/><circle cx="965.4" cy="672.9"/><circle cx="930.5" cy="698.2"/><circle cx="933.1" cy="699.4"/><circle cx="966.1" cy="668.8"/></g><g color="#2c728e"><circle cx="956.5" cy="670.2"/><circle cx="936.1" cy="689.1"/></g><g color="#2a788e"><circle cx="927.9" cy="712.1"/><circle cx="934.5" cy="693.1"/><circle cx="958.2" cy="681.0"/><circle cx="952.5" cy="672.9"/></g><g color="#277e8e"><circle cx="942.6" cy="693.8"/><circle cx="920.4" cy="704.4"/></g><g color="#25848e"><circle cx="961.4" cy="670.6"/><circle cx="960.2" cy="677.2"/></g><g color="#21918c"><circle cx="960.3" cy="673.9"/></g><g color="#25848e"><circle cx="945.2" cy="691.3"/></g><g color="#238a8d"><circle cx="926.2" cy="711.9"/></g><g color="#25848e"><circle cx="920.1" cy="707.3"/></g><g color="#238a8d"><circle cx="920.9" cy="709.7"/><circle cx="937.8" cy="693.1"/></g><g color="#22a884"><circle cx="952.7" cy="681.7"/></g><g color="#1f968b"><circle cx="926.4" cy="701.7"/></g><g color="#1fa287"><circle cx="922.9" cy="703.3"/><circle cx="957.0" cy="675.0"/></g><g color="#238a8d"><circle cx="923.1" cy="711.5"/></g><g color="#21918c"><circle cx="925.2" cy="711.8"/></g><g color="#1e9c89"><circle cx="941.1" cy="690.4"/><circle cx="921.5" cy="709.5"/></g><g color="#1f968b"><circle cx="928.6" cy="702.5"/></g><g color="#25848e"><circle cx="958.4" cy="679.1"/></g><g color="#2fb47c"><circle cx="946.4" cy="682.2"/></g><g color="#238a8d"><circle cx="945.7" cy="679.4"/></g><g color="#28ae80"><circle cx="948.5" cy="684.9"/></g><g color="#238a8d"><circle cx="922.0" cy="710.9"/></g><g color="#50c46a"><circle cx="928.0" cy="704.8"/></g><g color="#38b977"><circle cx="948.5" cy="683.3"/></g><g color="#22a884"><circle cx="949.8" cy="677.5"/></g><g color="#38b977"><circle cx="929.1" cy="706.4"/></g><g color="#1e9c89"><circle cx="942.3" cy="685.4"/></g><g color="#38b977"><circle cx="927.6" cy="709.8"/></g><g color="#28ae80"><circle cx="944.2" cy="685.5"/></g><g color="#50c46a"><circle cx="923.4" cy="709.5"/></g><g color="#38b977"><circle cx="953.0" cy="678.3"/></g><g color="#5ec962"><circle cx="923.3" cy="704.7"/></g><g color="#8bd646"><circle cx="925.8" cy="709.3"/></g><g color="#addc30"><circle cx="925.1" cy="705.2"/></g><g color="#9bd93c"><circle cx="925.6" cy="704.8"/></g><g color="#6ccd5a"><circle cx="922.7" cy="707.5"/></g><g color="#7ad151"><circle cx="928.1" cy="707.0"/></g><g color="#dfe318"><circle cx="925.4" cy="706.9"/><circle cx="925.4" cy="706.8"/></g></g>
<path d="M917.30 585.80V716.80M917.30 716.80H1067.95M977.56 585.80V716.80M917.30 664.40H1067.95M1037.82 585.80V716.80M917.30 612.00H1067.95" stroke="#b0b0b0" stroke-width="1.6" fill="none"/>
<path d="M917.30 716.80L1067.95 585.80" stroke="#000" stroke-width="3.5" stroke-dasharray="13 6.5" fill="none" clip-path="url(#c11)"/>
<rect x="917.3" y="585.8" width="150.65" height="131.0" fill="none" stroke="#000" stroke-width="1.6"/>
<path d="M917.30 716.80v7M917.30 716.80h-7M977.56 716.80v7M917.30 664.40h-7M1037.82 716.80v7M917.30 612.00h-7" stroke="#000" stroke-width="1.6" fill="none"/>
<text x="917.30" y="743.80" font-size="17.80" textLength="10.18" lengthAdjust="spacingAndGlyphs" text-anchor="middle">0</text>
<text x="902.80" y="722.65" font-size="17.80" textLength="10.18" lengthAdjust="spacingAndGlyphs" text-anchor="end">0</text>
<text x="977.56" y="743.80" font-size="17.80" textLength="40.72" lengthAdjust="spacingAndGlyphs" text-anchor="middle">2000</text>
<text x="902.80" y="670.25" font-size="17.80" textLength="40.72" lengthAdjust="spacingAndGlyphs" text-anchor="end">2000</text>
<text x="1037.82" y="743.80" font-size="17.80" textLength="40.72" lengthAdjust="spacingAndGlyphs" text-anchor="middle">4000</text>
<text x="902.80" y="617.85" font-size="17.80" textLength="40.72" lengthAdjust="spacingAndGlyphs" text-anchor="end">4000</text>
<text x="922.90" y="604.80" font-size="17.80" textLength="16.00" lengthAdjust="spacingAndGlyphs">(l)</text>
<text x="992.62" y="554.80" font-size="17.80" textLength="31.26" lengthAdjust="spacingAndGlyphs" text-anchor="middle">Dec</text>
<text x="992.62" y="573.10" font-size="17.80" textLength="95.62" lengthAdjust="spacingAndGlyphs" text-anchor="middle">KGE=0.802</text>
<text x="992.42" y="766.20" font-size="15.58" textLength="67.76" lengthAdjust="spacingAndGlyphs" text-anchor="middle">Observed</text>
<text x="895.36" y="784.90" font-size="15.58" textLength="70.32" lengthAdjust="spacingAndGlyphs">(MJ mm h</text><text x="986.69" y="784.90" font-size="15.58" textLength="17.03" lengthAdjust="spacingAndGlyphs">ha</text><text x="1024.32" y="784.90" font-size="15.58" textLength="44.88" lengthAdjust="spacingAndGlyphs">month</text><text x="1085.22" y="784.90" font-size="15.58" textLength="4.66" lengthAdjust="spacingAndGlyphs">)</text><text x="967.03" y="778.90" font-size="10.68" textLength="7.28" lengthAdjust="spacingAndGlyphs">−</text><text x="974.91" y="779.00" font-size="10.68" textLength="6.10" lengthAdjust="spacingAndGlyphs">1</text><text x="1004.83" y="778.90" font-size="10.68" textLength="7.28" lengthAdjust="spacingAndGlyphs">−</text><text x="1012.71" y="779.00" font-size="10.68" textLength="6.10" lengthAdjust="spacingAndGlyphs">1</text><text x="1070.43" y="778.90" font-size="10.68" textLength="7.28" lengthAdjust="spacingAndGlyphs">−</text><text x="1078.31" y="779.00" font-size="10.68" textLength="6.10" lengthAdjust="spacingAndGlyphs">1</text>
<g transform="translate(848.80,651.30) rotate(-90)">
<text x="-0.75" y="-17.90" font-size="15.58" textLength="72.00" lengthAdjust="spacingAndGlyphs" text-anchor="middle">Estimated</text>
<text x="-97.27" y="0.00" font-size="15.58" textLength="70.32" lengthAdjust="spacingAndGlyphs">(MJ mm h</text><text x="-5.93" y="0.00" font-size="15.58" textLength="17.03" lengthAdjust="spacingAndGlyphs">ha</text><text x="31.70" y="0.00" font-size="15.58" textLength="44.88" lengthAdjust="spacingAndGlyphs">month</text><text x="92.60" y="0.00" font-size="15.58" textLength="4.66" lengthAdjust="spacingAndGlyphs">)</text><text x="-25.60" y="-6.00" font-size="10.68" textLength="7.28" lengthAdjust="spacingAndGlyphs">−</text><text x="-17.72" y="-5.90" font-size="10.68" textLength="6.10" lengthAdjust="spacingAndGlyphs">1</text><text x="12.20" y="-6.00" font-size="10.68" textLength="7.28" lengthAdjust="spacingAndGlyphs">−</text><text x="20.08" y="-5.90" font-size="10.68" textLength="6.10" lengthAdjust="spacingAndGlyphs">1</text><text x="77.80" y="-6.00" font-size="10.68" textLength="7.28" lengthAdjust="spacingAndGlyphs">−</text><text x="85.68" y="-5.90" font-size="10.68" textLength="6.10" lengthAdjust="spacingAndGlyphs">1</text>
</g>
<linearGradient id="cbg" x1="0" y1="1" x2="0" y2="0"><stop offset="0.0000" stop-color="#8f6798"/><stop offset="0.0312" stop-color="#906e9f"/><stop offset="0.0625" stop-color="#9175a6"/><stop offset="0.0938" stop-color="#917bab"/><stop offset="0.1250" stop-color="#9181b0"/><stop offset="0.1562" stop-color="#8f87b4"/><stop offset="0.1875" stop-color="#8e8cb6"/><stop offset="0.2188" stop-color="#8b92b8"/><stop offset="0.2500" stop-color="#8997b9"/><stop offset="0.2812" stop-color="#879cba"/><stop offset="0.3125" stop-color="#85a1bb"/><stop offset="0.3438" stop-color="#82a6bb"/><stop offset="0.3750" stop-color="#80abbb"/><stop offset="0.4062" stop-color="#7fafbb"/><stop offset="0.4375" stop-color="#7db4bb"/><stop offset="0.4688" stop-color="#7bb8bb"/><stop offset="0.5000" stop-color="#7abdba"/><stop offset="0.5312" stop-color="#78c1b9"/><stop offset="0.5625" stop-color="#78c6b8"/><stop offset="0.5938" stop-color="#7acab6"/><stop offset="0.6250" stop-color="#7ecfb3"/><stop offset="0.6562" stop-color="#84d3af"/><stop offset="0.6875" stop-color="#8cd7ab"/><stop offset="0.7188" stop-color="#95dba6"/><stop offset="0.7500" stop-color="#9edfa1"/><stop offset="0.7812" stop-color="#a9e29a"/><stop offset="0.8125" stop-color="#b5e593"/><stop offset="0.8438" stop-color="#c1e88b"/><stop offset="0.8750" stop-color="#ceea83"/><stop offset="0.9062" stop-color="#dbec7b"/><stop offset="0.9375" stop-color="#e7ee75"/><stop offset="0.9688" stop-color="#f4ef76"/><stop offset="1.0000" stop-color="#fef17c"/></linearGradient><rect x="1103.8" y="206.1" width="19.40" height="387.00" fill="url(#cbg)" stroke="#000" stroke-width="1.6"/><path d="M1123.20 539.50h7M1123.20 483.30h7M1123.20 427.00h7M1123.20 370.80h7M1123.20 314.50h7M1123.20 258.30h7" stroke="#000" stroke-width="1.6"/><text x="1137.20" y="545.35" font-size="17.80" textLength="25.45" lengthAdjust="spacingAndGlyphs">0.2</text><text x="1137.20" y="489.15" font-size="17.80" textLength="25.45" lengthAdjust="spacingAndGlyphs">0.4</text><text x="1137.20" y="432.85" font-size="17.80" textLength="25.45" lengthAdjust="spacingAndGlyphs">0.6</text><text x="1137.20" y="376.65" font-size="17.80" textLength="25.45" lengthAdjust="spacingAndGlyphs">0.8</text><text x="1137.20" y="320.35" font-size="17.80" textLength="25.45" lengthAdjust="spacingAndGlyphs">1.0</text><text x="1137.20" y="264.15" font-size="17.80" textLength="25.45" lengthAdjust="spacingAndGlyphs">1.2</text><text x="1079.01" y="199.90" font-size="17.80" textLength="9.08" lengthAdjust="spacingAndGlyphs">1</text><text x="1088.58" y="199.90" font-size="17.80" textLength="10.20" lengthAdjust="spacingAndGlyphs">e</text><text x="1099.08" y="199.90" font-size="17.80" textLength="12.61" lengthAdjust="spacingAndGlyphs">−</text><text x="1112.78" y="199.90" font-size="17.80" textLength="9.59" lengthAdjust="spacingAndGlyphs">6</text><g transform="translate(1182.1,400.5) rotate(-90)"><text x="0.00" y="0.00" font-size="15.58" textLength="53.72" lengthAdjust="spacingAndGlyphs" text-anchor="middle">Density</text></g>
</svg></body></html>
